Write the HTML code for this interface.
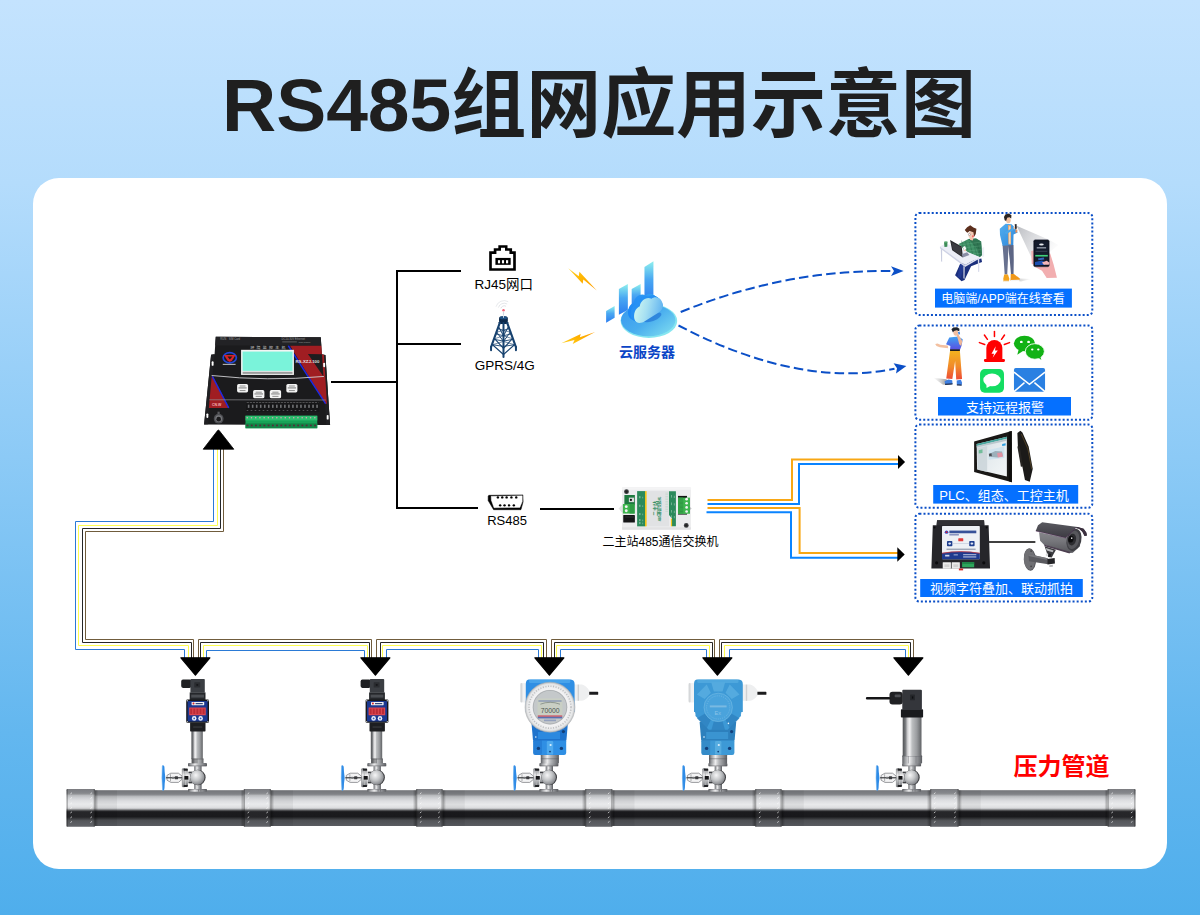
<!DOCTYPE html>
<html><head><meta charset="utf-8"><title>RS485</title>
<style>
html,body{margin:0;padding:0;background:#c4e3fe;font-family:"Liberation Sans",sans-serif;}
svg{display:block;}
</style></head><body>
<svg width="1200" height="915" viewBox="0 0 1200 915">
<defs>
<linearGradient id="bg" x1="0" y1="0" x2="0" y2="1">
<stop offset="0" stop-color="#c4e3fe"/><stop offset="0.2" stop-color="#b4dcfc"/><stop offset="0.5" stop-color="#8ccaf6"/><stop offset="0.8" stop-color="#63b7ef"/><stop offset="1" stop-color="#4faeec"/>
</linearGradient>
<linearGradient id="pipe" x1="0" y1="0" x2="0" y2="1">
<stop offset="0" stop-color="#74767a"/><stop offset="0.11" stop-color="#808286"/><stop offset="0.135" stop-color="#8f9195"/><stop offset="0.17" stop-color="#b5b7ba"/><stop offset="0.22" stop-color="#c8cacd"/><stop offset="0.30" stop-color="#dcdde0"/><stop offset="0.40" stop-color="#e8e9eb"/><stop offset="0.48" stop-color="#dfe0e2"/><stop offset="0.52" stop-color="#c0c1c4"/><stop offset="0.56" stop-color="#5a5b5e"/><stop offset="0.60" stop-color="#1c1c1f"/><stop offset="0.74" stop-color="#1a1a1d"/><stop offset="0.78" stop-color="#2e2f32"/><stop offset="0.84" stop-color="#4d4f53"/><stop offset="1" stop-color="#5a5c61"/>
</linearGradient>
<linearGradient id="steelD" x1="0" y1="0" x2="1" y2="0">
<stop offset="0" stop-color="#4f5154"/><stop offset="0.14" stop-color="#77797c"/><stop offset="0.27" stop-color="#d6d6d8"/><stop offset="0.38" stop-color="#f0f0f1"/><stop offset="0.5" stop-color="#bdbfc1"/><stop offset="0.75" stop-color="#9a9c9f"/><stop offset="1" stop-color="#606265"/>
</linearGradient>
<linearGradient id="steelH" x1="0" y1="0" x2="1" y2="0">
<stop offset="0" stop-color="#595b5f"/><stop offset="0.14" stop-color="#9d9fa2"/><stop offset="0.36" stop-color="#ededee"/><stop offset="0.55" stop-color="#b4b6b9"/><stop offset="0.8" stop-color="#86888c"/><stop offset="1" stop-color="#5b5d61"/>
</linearGradient>
</defs>
<rect x="0" y="0" width="1200" height="915" fill="url(#bg)"/>
<rect x="33" y="178" width="1134" height="691" rx="26" ry="26" fill="#fff"/>
<text x="222" y="131" font-family="'Liberation Sans','Noto Sans CJK SC',sans-serif" font-size="75" font-weight="bold" fill="#1f1f1f" textLength="754" lengthAdjust="spacingAndGlyphs">RS485组网应用示意图</text>
<path d="M331 382 L397 382" fill="none" stroke="#000" stroke-width="2" />
<path d="M461 271 L397 271 L397 508 L478 508" fill="none" stroke="#000" stroke-width="2" />
<path d="M397 344 L461 344" fill="none" stroke="#000" stroke-width="2" />
<path d="M540 509 L614 509" fill="none" stroke="#000" stroke-width="2" />
<text x="503.7" y="288.6" font-family="'Liberation Sans','Noto Sans CJK SC',sans-serif" font-size="13.5" fill="#000" text-anchor="middle">RJ45网口</text>
<text x="504.7" y="370.4" font-family="'Liberation Sans','Noto Sans CJK SC',sans-serif" font-size="13.5" fill="#000" text-anchor="middle">GPRS/4G</text>
<text x="507" y="524.8" font-family="'Liberation Sans','Noto Sans CJK SC',sans-serif" font-size="13" fill="#000" text-anchor="middle">RS485</text>
<text x="660.5" y="546" font-family="'Liberation Sans','Noto Sans CJK SC',sans-serif" font-size="12" fill="#000" text-anchor="middle">二主站485通信交换机</text>
<text x="647" y="357" font-family="'Liberation Sans','Noto Sans CJK SC',sans-serif" font-size="14" font-weight="bold" fill="#0b45c6" text-anchor="middle">云服务器</text>
<text x="1061.5" y="774.5" font-family="'Liberation Sans','Noto Sans CJK SC',sans-serif" font-size="24" font-weight="bold" fill="#ff0000" text-anchor="middle">压力管道</text>
<rect x="915.4" y="213" width="176.9" height="102.0" rx="4" ry="4" fill="none" stroke="#0b4fc7" stroke-width="2" stroke-dasharray="2 2.1"/>
<rect x="915.4" y="325.5" width="176.9" height="94.3" rx="4" ry="4" fill="none" stroke="#0b4fc7" stroke-width="2" stroke-dasharray="2 2.1"/>
<rect x="915.4" y="424.5" width="176.9" height="83.3" rx="4" ry="4" fill="none" stroke="#0b4fc7" stroke-width="2" stroke-dasharray="2 2.1"/>
<rect x="915.4" y="513.7" width="176.9" height="87.8" rx="4" ry="4" fill="none" stroke="#0b4fc7" stroke-width="2" stroke-dasharray="2 2.1"/>
<rect x="935" y="288.6" width="136.9" height="19.0" fill="#0570ff"/>
<rect x="938" y="397" width="133.0" height="18.5" fill="#0570ff"/>
<rect x="933.2" y="485" width="145.0" height="18.6" fill="#0570ff"/>
<rect x="920.2" y="579" width="162.6" height="18.0" fill="#0570ff"/>
<text x="1003" y="303.4" font-family="'Liberation Sans','Noto Sans CJK SC',sans-serif" font-size="12" fill="#fff" text-anchor="middle">电脑端/APP端在线查看</text>
<text x="1005" y="411.7" font-family="'Liberation Sans','Noto Sans CJK SC',sans-serif" font-size="13" fill="#fff" text-anchor="middle">支持远程报警</text>
<text x="1004" y="499.9" font-family="'Liberation Sans','Noto Sans CJK SC',sans-serif" font-size="13" fill="#fff" text-anchor="middle">PLC、组态、工控主机</text>
<text x="1001.5" y="592.5" font-family="'Liberation Sans','Noto Sans CJK SC',sans-serif" font-size="13" fill="#fff" text-anchor="middle">视频字符叠加、联动抓拍</text>
<path d="M707.5 500 L792 500 L792 459.5 L899 459.5" fill="none" stroke="#f8a714" stroke-width="2" />
<path d="M707.5 504 L799 504 L799 464 L899 464" fill="none" stroke="#0a84ff" stroke-width="2" />
<path d="M707.5 508 L799.6 508 L799.6 553 L899 553" fill="none" stroke="#f8a714" stroke-width="2" />
<path d="M706.5 512.2 L791 512.2 L791 557.7 L899 557.7" fill="none" stroke="#0a84ff" stroke-width="2" />
<path d="M898 454.9 L905.1 462.1 L898 469.1 Z" fill="#000"/>
<path d="M897.3 547.2 L904.7 554.4 L897.3 561.7 Z" fill="#000"/>
<path d="M213.5 449 L213.5 521.5 L75.5 521.5 L75.5 649.5 L184.5 649.5 L184.5 658" fill="none" stroke="#2a7ad6" stroke-width="1" />
<path d="M217.5 449 L217.5 525.5 L78.5 525.5 L78.5 645.5 L188.5 645.5 L188.5 658" fill="none" stroke="#fdfd50" stroke-width="1" />
<path d="M220.5 449 L220.5 528.5 L82.5 528.5 L82.5 642.5 L191.5 642.5 L191.5 658" fill="none" stroke="#262626" stroke-width="1" />
<path d="M223.5 449 L223.5 531.5 L85.5 531.5 L85.5 639.5 L193.5 639.5 L193.5 658" fill="none" stroke="#705c3c" stroke-width="1" />
<path d="M206.5 658 L206.5 650.5 L364.5 650.5 L364.5 658" fill="none" stroke="#2a7ad6" stroke-width="1" />
<path d="M203.5 658 L203.5 645.5 L367.5 645.5 L367.5 658" fill="none" stroke="#fdfd50" stroke-width="1" />
<path d="M200.5 658 L200.5 642.5 L369.5 642.5 L369.5 658" fill="none" stroke="#262626" stroke-width="1" />
<path d="M198.5 658 L198.5 639.5 L371.5 639.5 L371.5 658" fill="none" stroke="#705c3c" stroke-width="1" />
<path d="M386.5 658 L386.5 649.5 L538.5 649.5 L538.5 658" fill="none" stroke="#2a7ad6" stroke-width="1" />
<path d="M382.5 658 L382.5 645.5 L541.5 645.5 L541.5 658" fill="none" stroke="#fdfd50" stroke-width="1" />
<path d="M380.5 658 L380.5 642.5 L543.5 642.5 L543.5 658" fill="none" stroke="#262626" stroke-width="1" />
<path d="M376.5 658 L376.5 639.5 L546.5 639.5 L546.5 658" fill="none" stroke="#705c3c" stroke-width="1" />
<path d="M560.5 658 L560.5 649.5 L706.5 649.5 L706.5 658" fill="none" stroke="#2a7ad6" stroke-width="1" />
<path d="M556.5 658 L556.5 645.5 L709.5 645.5 L709.5 658" fill="none" stroke="#fdfd50" stroke-width="1" />
<path d="M554.5 658 L554.5 642.5 L712.5 642.5 L712.5 658" fill="none" stroke="#262626" stroke-width="1" />
<path d="M551.5 658 L551.5 639.5 L714.5 639.5 L714.5 658" fill="none" stroke="#705c3c" stroke-width="1" />
<path d="M729.5 658 L729.5 649.5 L905.5 649.5 L905.5 658" fill="none" stroke="#2a7ad6" stroke-width="1" />
<path d="M724.5 658 L724.5 645.5 L908.5 645.5 L908.5 658" fill="none" stroke="#fdfd50" stroke-width="1" />
<path d="M721.5 658 L721.5 642.5 L910.5 642.5 L910.5 658" fill="none" stroke="#262626" stroke-width="1" />
<path d="M719.5 658 L719.5 639.5 L913.5 639.5 L913.5 658" fill="none" stroke="#705c3c" stroke-width="1" />
<path d="M180.90 657.8 L209.90 657.8 L195.40 675.2 Z" fill="#000" stroke="#000" stroke-width="1.2" stroke-linejoin="round"/>
<path d="M360.90 657.8 L389.90 657.8 L375.40 675.2 Z" fill="#000" stroke="#000" stroke-width="1.2" stroke-linejoin="round"/>
<path d="M534.90 657.8 L563.90 657.8 L549.40 675.2 Z" fill="#000" stroke="#000" stroke-width="1.2" stroke-linejoin="round"/>
<path d="M702.90 657.8 L731.90 657.8 L717.40 675.2 Z" fill="#000" stroke="#000" stroke-width="1.2" stroke-linejoin="round"/>
<path d="M893.90 657.8 L922.90 657.8 L908.40 675.2 Z" fill="#000" stroke="#000" stroke-width="1.2" stroke-linejoin="round"/>
<path d="M203.2 449.2 L233.8 449.2 L219.2 430.6 Q218.4 429.6 217.6 430.6 Z" fill="#000" stroke="#000" stroke-width="0.8" stroke-linejoin="round"/>
<rect x="67" y="790.2" width="1068" height="35.8" fill="url(#pipe)"/>
<defs><linearGradient id="edgeL" x1="0" y1="0" x2="1" y2="0"><stop offset="0" stop-color="#000" stop-opacity="0.32"/><stop offset="1" stop-color="#000" stop-opacity="0"/></linearGradient>
<linearGradient id="edgeR" x1="1" y1="0" x2="0" y2="0"><stop offset="0" stop-color="#000" stop-opacity="0.32"/><stop offset="1" stop-color="#000" stop-opacity="0"/></linearGradient></defs>
<rect x="95" y="790.2" width="22" height="35.8" fill="#000" opacity="0.05"/>
<rect x="95" y="790.2" width="3.2" height="35.8" fill="url(#edgeL)"/>
<rect x="66.5" y="789" width="28.5" height="37.8" rx="1.2" fill="url(#pipe)"/>
<rect x="66.5" y="789" width="28.5" height="37.8" rx="1.2" fill="#fff" opacity="0.05"/>
<rect x="66.5" y="789" width="1.3" height="37.8" fill="#000" opacity="0.3"/>
<rect x="93.7" y="789" width="1.3" height="37.8" fill="#000" opacity="0.3"/>
<path d="M70.40 793.9 L72.00 792.6999999999999" stroke="#fff" stroke-width="0.9" opacity="0.72"/>
<path d="M70.40 798.6 L72.00 797.4" stroke="#fff" stroke-width="0.9" opacity="0.72"/>
<path d="M70.40 803.9 L72.00 802.6999999999999" stroke="#fff" stroke-width="0.9" opacity="0.72"/>
<path d="M70.40 808.6 L72.00 807.4" stroke="#fff" stroke-width="0.9" opacity="0.72"/>
<path d="M70.40 813.0 L72.00 811.8" stroke="#fff" stroke-width="0.9" opacity="0.72"/>
<path d="M70.40 817.9 L72.00 816.6999999999999" stroke="#fff" stroke-width="0.9" opacity="0.72"/>
<path d="M70.40 822.6 L72.00 821.4" stroke="#fff" stroke-width="0.9" opacity="0.72"/>
<path d="M90.40 793.9 L92.00 792.6999999999999" stroke="#fff" stroke-width="0.9" opacity="0.72"/>
<path d="M90.40 798.6 L92.00 797.4" stroke="#fff" stroke-width="0.9" opacity="0.72"/>
<path d="M90.40 803.9 L92.00 802.6999999999999" stroke="#fff" stroke-width="0.9" opacity="0.72"/>
<path d="M90.40 808.6 L92.00 807.4" stroke="#fff" stroke-width="0.9" opacity="0.72"/>
<path d="M90.40 813.0 L92.00 811.8" stroke="#fff" stroke-width="0.9" opacity="0.72"/>
<path d="M90.40 817.9 L92.00 816.6999999999999" stroke="#fff" stroke-width="0.9" opacity="0.72"/>
<path d="M90.40 822.6 L92.00 821.4" stroke="#fff" stroke-width="0.9" opacity="0.72"/>
<rect x="271" y="790.2" width="22" height="35.8" fill="#000" opacity="0.05"/>
<rect x="271" y="790.2" width="3.2" height="35.8" fill="url(#edgeL)"/>
<rect x="240.5" y="790.2" width="3.2" height="35.8" fill="url(#edgeR)"/>
<rect x="243.7" y="789" width="27.3" height="37.8" rx="1.2" fill="url(#pipe)"/>
<rect x="243.7" y="789" width="27.3" height="37.8" rx="1.2" fill="#fff" opacity="0.05"/>
<rect x="243.7" y="789" width="1.3" height="37.8" fill="#000" opacity="0.3"/>
<rect x="269.7" y="789" width="1.3" height="37.8" fill="#000" opacity="0.3"/>
<path d="M247.60 793.9 L249.20 792.6999999999999" stroke="#fff" stroke-width="0.9" opacity="0.72"/>
<path d="M247.60 798.6 L249.20 797.4" stroke="#fff" stroke-width="0.9" opacity="0.72"/>
<path d="M247.60 803.9 L249.20 802.6999999999999" stroke="#fff" stroke-width="0.9" opacity="0.72"/>
<path d="M247.60 808.6 L249.20 807.4" stroke="#fff" stroke-width="0.9" opacity="0.72"/>
<path d="M247.60 813.0 L249.20 811.8" stroke="#fff" stroke-width="0.9" opacity="0.72"/>
<path d="M247.60 817.9 L249.20 816.6999999999999" stroke="#fff" stroke-width="0.9" opacity="0.72"/>
<path d="M247.60 822.6 L249.20 821.4" stroke="#fff" stroke-width="0.9" opacity="0.72"/>
<path d="M266.40 793.9 L268.00 792.6999999999999" stroke="#fff" stroke-width="0.9" opacity="0.72"/>
<path d="M266.40 798.6 L268.00 797.4" stroke="#fff" stroke-width="0.9" opacity="0.72"/>
<path d="M266.40 803.9 L268.00 802.6999999999999" stroke="#fff" stroke-width="0.9" opacity="0.72"/>
<path d="M266.40 808.6 L268.00 807.4" stroke="#fff" stroke-width="0.9" opacity="0.72"/>
<path d="M266.40 813.0 L268.00 811.8" stroke="#fff" stroke-width="0.9" opacity="0.72"/>
<path d="M266.40 817.9 L268.00 816.6999999999999" stroke="#fff" stroke-width="0.9" opacity="0.72"/>
<path d="M266.40 822.6 L268.00 821.4" stroke="#fff" stroke-width="0.9" opacity="0.72"/>
<rect x="442.8" y="790.2" width="22" height="35.8" fill="#000" opacity="0.05"/>
<rect x="442.8" y="790.2" width="3.2" height="35.8" fill="url(#edgeL)"/>
<rect x="412.8" y="790.2" width="3.2" height="35.8" fill="url(#edgeR)"/>
<rect x="416" y="789" width="26.8" height="37.8" rx="1.2" fill="url(#pipe)"/>
<rect x="416" y="789" width="26.8" height="37.8" rx="1.2" fill="#fff" opacity="0.05"/>
<rect x="416" y="789" width="1.3" height="37.8" fill="#000" opacity="0.3"/>
<rect x="441.5" y="789" width="1.3" height="37.8" fill="#000" opacity="0.3"/>
<path d="M419.90 793.9 L421.50 792.6999999999999" stroke="#fff" stroke-width="0.9" opacity="0.72"/>
<path d="M419.90 798.6 L421.50 797.4" stroke="#fff" stroke-width="0.9" opacity="0.72"/>
<path d="M419.90 803.9 L421.50 802.6999999999999" stroke="#fff" stroke-width="0.9" opacity="0.72"/>
<path d="M419.90 808.6 L421.50 807.4" stroke="#fff" stroke-width="0.9" opacity="0.72"/>
<path d="M419.90 813.0 L421.50 811.8" stroke="#fff" stroke-width="0.9" opacity="0.72"/>
<path d="M419.90 817.9 L421.50 816.6999999999999" stroke="#fff" stroke-width="0.9" opacity="0.72"/>
<path d="M419.90 822.6 L421.50 821.4" stroke="#fff" stroke-width="0.9" opacity="0.72"/>
<path d="M438.20 793.9 L439.80 792.6999999999999" stroke="#fff" stroke-width="0.9" opacity="0.72"/>
<path d="M438.20 798.6 L439.80 797.4" stroke="#fff" stroke-width="0.9" opacity="0.72"/>
<path d="M438.20 803.9 L439.80 802.6999999999999" stroke="#fff" stroke-width="0.9" opacity="0.72"/>
<path d="M438.20 808.6 L439.80 807.4" stroke="#fff" stroke-width="0.9" opacity="0.72"/>
<path d="M438.20 813.0 L439.80 811.8" stroke="#fff" stroke-width="0.9" opacity="0.72"/>
<path d="M438.20 817.9 L439.80 816.6999999999999" stroke="#fff" stroke-width="0.9" opacity="0.72"/>
<path d="M438.20 822.6 L439.80 821.4" stroke="#fff" stroke-width="0.9" opacity="0.72"/>
<rect x="612.5" y="790.2" width="22" height="35.8" fill="#000" opacity="0.05"/>
<rect x="612.5" y="790.2" width="3.2" height="35.8" fill="url(#edgeL)"/>
<rect x="581.8" y="790.2" width="3.2" height="35.8" fill="url(#edgeR)"/>
<rect x="585" y="789" width="27.5" height="37.8" rx="1.2" fill="url(#pipe)"/>
<rect x="585" y="789" width="27.5" height="37.8" rx="1.2" fill="#fff" opacity="0.05"/>
<rect x="585" y="789" width="1.3" height="37.8" fill="#000" opacity="0.3"/>
<rect x="611.2" y="789" width="1.3" height="37.8" fill="#000" opacity="0.3"/>
<path d="M588.90 793.9 L590.50 792.6999999999999" stroke="#fff" stroke-width="0.9" opacity="0.72"/>
<path d="M588.90 798.6 L590.50 797.4" stroke="#fff" stroke-width="0.9" opacity="0.72"/>
<path d="M588.90 803.9 L590.50 802.6999999999999" stroke="#fff" stroke-width="0.9" opacity="0.72"/>
<path d="M588.90 808.6 L590.50 807.4" stroke="#fff" stroke-width="0.9" opacity="0.72"/>
<path d="M588.90 813.0 L590.50 811.8" stroke="#fff" stroke-width="0.9" opacity="0.72"/>
<path d="M588.90 817.9 L590.50 816.6999999999999" stroke="#fff" stroke-width="0.9" opacity="0.72"/>
<path d="M588.90 822.6 L590.50 821.4" stroke="#fff" stroke-width="0.9" opacity="0.72"/>
<path d="M607.90 793.9 L609.50 792.6999999999999" stroke="#fff" stroke-width="0.9" opacity="0.72"/>
<path d="M607.90 798.6 L609.50 797.4" stroke="#fff" stroke-width="0.9" opacity="0.72"/>
<path d="M607.90 803.9 L609.50 802.6999999999999" stroke="#fff" stroke-width="0.9" opacity="0.72"/>
<path d="M607.90 808.6 L609.50 807.4" stroke="#fff" stroke-width="0.9" opacity="0.72"/>
<path d="M607.90 813.0 L609.50 811.8" stroke="#fff" stroke-width="0.9" opacity="0.72"/>
<path d="M607.90 817.9 L609.50 816.6999999999999" stroke="#fff" stroke-width="0.9" opacity="0.72"/>
<path d="M607.90 822.6 L609.50 821.4" stroke="#fff" stroke-width="0.9" opacity="0.72"/>
<rect x="781.8" y="790.2" width="22" height="35.8" fill="#000" opacity="0.05"/>
<rect x="781.8" y="790.2" width="3.2" height="35.8" fill="url(#edgeL)"/>
<rect x="751.8" y="790.2" width="3.2" height="35.8" fill="url(#edgeR)"/>
<rect x="755" y="789" width="26.8" height="37.8" rx="1.2" fill="url(#pipe)"/>
<rect x="755" y="789" width="26.8" height="37.8" rx="1.2" fill="#fff" opacity="0.05"/>
<rect x="755" y="789" width="1.3" height="37.8" fill="#000" opacity="0.3"/>
<rect x="780.5" y="789" width="1.3" height="37.8" fill="#000" opacity="0.3"/>
<path d="M758.90 793.9 L760.50 792.6999999999999" stroke="#fff" stroke-width="0.9" opacity="0.72"/>
<path d="M758.90 798.6 L760.50 797.4" stroke="#fff" stroke-width="0.9" opacity="0.72"/>
<path d="M758.90 803.9 L760.50 802.6999999999999" stroke="#fff" stroke-width="0.9" opacity="0.72"/>
<path d="M758.90 808.6 L760.50 807.4" stroke="#fff" stroke-width="0.9" opacity="0.72"/>
<path d="M758.90 813.0 L760.50 811.8" stroke="#fff" stroke-width="0.9" opacity="0.72"/>
<path d="M758.90 817.9 L760.50 816.6999999999999" stroke="#fff" stroke-width="0.9" opacity="0.72"/>
<path d="M758.90 822.6 L760.50 821.4" stroke="#fff" stroke-width="0.9" opacity="0.72"/>
<path d="M777.20 793.9 L778.80 792.6999999999999" stroke="#fff" stroke-width="0.9" opacity="0.72"/>
<path d="M777.20 798.6 L778.80 797.4" stroke="#fff" stroke-width="0.9" opacity="0.72"/>
<path d="M777.20 803.9 L778.80 802.6999999999999" stroke="#fff" stroke-width="0.9" opacity="0.72"/>
<path d="M777.20 808.6 L778.80 807.4" stroke="#fff" stroke-width="0.9" opacity="0.72"/>
<path d="M777.20 813.0 L778.80 811.8" stroke="#fff" stroke-width="0.9" opacity="0.72"/>
<path d="M777.20 817.9 L778.80 816.6999999999999" stroke="#fff" stroke-width="0.9" opacity="0.72"/>
<path d="M777.20 822.6 L778.80 821.4" stroke="#fff" stroke-width="0.9" opacity="0.72"/>
<rect x="958.8" y="790.2" width="22" height="35.8" fill="#000" opacity="0.05"/>
<rect x="958.8" y="790.2" width="3.2" height="35.8" fill="url(#edgeL)"/>
<rect x="926.8" y="790.2" width="3.2" height="35.8" fill="url(#edgeR)"/>
<rect x="930" y="789" width="28.8" height="37.8" rx="1.2" fill="url(#pipe)"/>
<rect x="930" y="789" width="28.8" height="37.8" rx="1.2" fill="#fff" opacity="0.05"/>
<rect x="930" y="789" width="1.3" height="37.8" fill="#000" opacity="0.3"/>
<rect x="957.5" y="789" width="1.3" height="37.8" fill="#000" opacity="0.3"/>
<path d="M933.90 793.9 L935.50 792.6999999999999" stroke="#fff" stroke-width="0.9" opacity="0.72"/>
<path d="M933.90 798.6 L935.50 797.4" stroke="#fff" stroke-width="0.9" opacity="0.72"/>
<path d="M933.90 803.9 L935.50 802.6999999999999" stroke="#fff" stroke-width="0.9" opacity="0.72"/>
<path d="M933.90 808.6 L935.50 807.4" stroke="#fff" stroke-width="0.9" opacity="0.72"/>
<path d="M933.90 813.0 L935.50 811.8" stroke="#fff" stroke-width="0.9" opacity="0.72"/>
<path d="M933.90 817.9 L935.50 816.6999999999999" stroke="#fff" stroke-width="0.9" opacity="0.72"/>
<path d="M933.90 822.6 L935.50 821.4" stroke="#fff" stroke-width="0.9" opacity="0.72"/>
<path d="M954.20 793.9 L955.80 792.6999999999999" stroke="#fff" stroke-width="0.9" opacity="0.72"/>
<path d="M954.20 798.6 L955.80 797.4" stroke="#fff" stroke-width="0.9" opacity="0.72"/>
<path d="M954.20 803.9 L955.80 802.6999999999999" stroke="#fff" stroke-width="0.9" opacity="0.72"/>
<path d="M954.20 808.6 L955.80 807.4" stroke="#fff" stroke-width="0.9" opacity="0.72"/>
<path d="M954.20 813.0 L955.80 811.8" stroke="#fff" stroke-width="0.9" opacity="0.72"/>
<path d="M954.20 817.9 L955.80 816.6999999999999" stroke="#fff" stroke-width="0.9" opacity="0.72"/>
<path d="M954.20 822.6 L955.80 821.4" stroke="#fff" stroke-width="0.9" opacity="0.72"/>
<rect x="1104.3" y="790.2" width="3.2" height="35.8" fill="url(#edgeR)"/>
<rect x="1107.5" y="789" width="28.0" height="37.8" rx="1.2" fill="url(#pipe)"/>
<rect x="1107.5" y="789" width="28.0" height="37.8" rx="1.2" fill="#fff" opacity="0.05"/>
<rect x="1107.5" y="789" width="1.3" height="37.8" fill="#000" opacity="0.3"/>
<rect x="1134.2" y="789" width="1.3" height="37.8" fill="#000" opacity="0.3"/>
<path d="M1111.40 793.9 L1113.00 792.6999999999999" stroke="#fff" stroke-width="0.9" opacity="0.72"/>
<path d="M1111.40 798.6 L1113.00 797.4" stroke="#fff" stroke-width="0.9" opacity="0.72"/>
<path d="M1111.40 803.9 L1113.00 802.6999999999999" stroke="#fff" stroke-width="0.9" opacity="0.72"/>
<path d="M1111.40 808.6 L1113.00 807.4" stroke="#fff" stroke-width="0.9" opacity="0.72"/>
<path d="M1111.40 813.0 L1113.00 811.8" stroke="#fff" stroke-width="0.9" opacity="0.72"/>
<path d="M1111.40 817.9 L1113.00 816.6999999999999" stroke="#fff" stroke-width="0.9" opacity="0.72"/>
<path d="M1111.40 822.6 L1113.00 821.4" stroke="#fff" stroke-width="0.9" opacity="0.72"/>
<path d="M1130.90 793.9 L1132.50 792.6999999999999" stroke="#fff" stroke-width="0.9" opacity="0.72"/>
<path d="M1130.90 798.6 L1132.50 797.4" stroke="#fff" stroke-width="0.9" opacity="0.72"/>
<path d="M1130.90 803.9 L1132.50 802.6999999999999" stroke="#fff" stroke-width="0.9" opacity="0.72"/>
<path d="M1130.90 808.6 L1132.50 807.4" stroke="#fff" stroke-width="0.9" opacity="0.72"/>
<path d="M1130.90 813.0 L1132.50 811.8" stroke="#fff" stroke-width="0.9" opacity="0.72"/>
<path d="M1130.90 817.9 L1132.50 816.6999999999999" stroke="#fff" stroke-width="0.9" opacity="0.72"/>
<path d="M1130.90 822.6 L1132.50 821.4" stroke="#fff" stroke-width="0.9" opacity="0.72"/>
<g><polygon points="215.75,336.77 320.76,337.23 321.92,354.50 325.42,355.08 330.09,425.09 204.08,424.50 211.08,354.73 214.58,354.27" fill="#1b1b1d"/><polygon points="215.75,336.77 320.76,337.23 321.34,345.75 215.17,345.40" fill="#222225"/><polygon points="211.08,354.73 214.58,354.27 208.17,424.27 204.08,424.50" fill="#202023"/><polygon points="321.92,354.50 325.42,355.08 330.09,425.09 326.24,425.09" fill="#202023"/><polygon points="290.07,345.75 321.34,345.75 321.92,354.50 323.91,354.85 326.94,403.74 325.54,403.74" fill="#a01d22"/><polygon points="307.92,353.92 322.04,354.27 323.44,376.44" fill="#1d1d1f"/><line x1="288.32" y1="345.75" x2="325.54" y2="403.74" stroke="#1b2be6" stroke-width="1.4"/><polygon points="211.67,376.44 213.07,376.44 229.17,407.94 208.87,407.94" fill="#a01d22"/><line x1="212.37" y1="376.44" x2="228.7" y2="407.94" stroke="#1b2be6" stroke-width="1.4"/><path d="M211.67 375.5 Q267.67 381.57 323.91 376.44" fill="none" stroke="#cfcfd2" stroke-width="0.9"/><path d="M209.33 399.77 L325.77 400.0" fill="none" stroke="#8d8d90" stroke-width="0.7"/><rect x="241.07" y="349.83" width="52.85" height="25.09" fill="#f2f4f3"/><rect x="242.59" y="351.58" width="49.93" height="19.26" fill="#7af3da"/><rect x="242.59" y="371.77" width="49.93" height="2.10" fill="#555" opacity="0.55"/><rect x="237.1" y="383.9" width="10.97" height="8.52" rx="1.6" fill="#f4f4f4"/><line x1="238.5" y1="387.93" x2="246.67" y2="387.93" stroke="#444" stroke-width="0.7"/><line x1="239.67" y1="386.0" x2="245.5" y2="386.0" stroke="#777" stroke-width="0.8"/><line x1="239.67" y1="390.55" x2="245.5" y2="390.55" stroke="#777" stroke-width="0.8"/><rect x="253.09" y="390.09" width="11.31" height="8.16" rx="1.6" fill="#f4f4f4"/><line x1="254.49" y1="393.94" x2="263.0" y2="393.94" stroke="#444" stroke-width="0.7"/><line x1="255.65" y1="392.19" x2="261.84" y2="392.19" stroke="#777" stroke-width="0.8"/><line x1="255.65" y1="396.39" x2="261.84" y2="396.39" stroke="#777" stroke-width="0.8"/><rect x="269.77" y="390.09" width="11.32" height="8.16" rx="1.6" fill="#f4f4f4"/><line x1="271.17" y1="393.94" x2="279.69" y2="393.94" stroke="#444" stroke-width="0.7"/><line x1="272.34" y1="392.19" x2="278.52" y2="392.19" stroke="#777" stroke-width="0.8"/><line x1="272.34" y1="396.39" x2="278.52" y2="396.39" stroke="#777" stroke-width="0.8"/><rect x="286.34" y="383.9" width="11.08" height="8.52" rx="1.6" fill="#f4f4f4"/><line x1="287.74" y1="387.93" x2="296.02" y2="387.93" stroke="#444" stroke-width="0.7"/><line x1="288.9" y1="386.0" x2="294.85" y2="386.0" stroke="#777" stroke-width="0.8"/><line x1="288.9" y1="390.55" x2="294.85" y2="390.55" stroke="#777" stroke-width="0.8"/><ellipse cx="229.75" cy="357.77" rx="6.6" ry="5.2" fill="none" stroke="#2246d8" stroke-width="1.7"/><polygon points="223.92,355.08 235.59,355.08 232.08,360.57 229.75,362.08 227.42,360.57" fill="#d8232a"/><polygon points="227.42,356.60 232.43,356.60 229.87,359.40" fill="#1b1b1d"/><rect x="222.75" y="363.84" width="12.84" height="1.16" fill="#ddd" opacity="0.75"/><text x="250.4" y="349" font-family="'Liberation Sans','Noto Sans CJK SC',sans-serif" font-size="3.9" fill="#e8e8e8" opacity="0.85" textLength="35" lengthAdjust="spacing">环境监控主机</text><text x="295.5" y="363.13" font-family="'Liberation Sans',sans-serif" font-size="4.3" font-weight="bold" fill="#f0f0f0" opacity="0.9">RS-XZJ-100</text><text x="220.3" y="340.03" font-family="'Liberation Sans',sans-serif" font-size="2.7" fill="#bbb" opacity="0.8">RUN</text><text x="228.7" y="340.03" font-family="'Liberation Sans',sans-serif" font-size="2.7" fill="#bbb" opacity="0.8">SIM Card</text><text x="281.5" y="340.03" font-family="'Liberation Sans',sans-serif" font-size="2.7" fill="#bbb" opacity="0.8">DC10-30V Ethernet</text><text x="298.5" y="342.83" font-family="'Liberation Sans',sans-serif" font-size="2.5" fill="#bbb" opacity="0.8">10M,100M</text><line x1="282.25" y1="341.9" x2="296.84" y2="341.9" stroke="#bbb" stroke-width="0.5" opacity="0.8"/><text x="212.1" y="406.07" font-family="'Liberation Sans',sans-serif" font-size="3.5" font-weight="bold" fill="#f3b5b5">CN.W</text><rect x="246.09" y="401.4" width="73.15" height="10.27" fill="#161618"/><rect x="247.84" y="404.67" width="1.6" height="3.2" fill="#8f9093" opacity="0.75"/><rect x="251.86" y="404.67" width="1.6" height="3.2" fill="#8f9093" opacity="0.75"/><rect x="255.89" y="404.67" width="1.6" height="3.2" fill="#8f9093" opacity="0.75"/><rect x="259.91" y="404.67" width="1.6" height="3.2" fill="#8f9093" opacity="0.75"/><rect x="263.94" y="404.67" width="1.6" height="3.2" fill="#8f9093" opacity="0.75"/><rect x="267.96" y="404.67" width="1.6" height="3.2" fill="#8f9093" opacity="0.75"/><rect x="271.99" y="404.67" width="1.6" height="3.2" fill="#8f9093" opacity="0.75"/><rect x="276.01" y="404.67" width="1.6" height="3.2" fill="#8f9093" opacity="0.75"/><rect x="280.04" y="404.67" width="1.6" height="3.2" fill="#8f9093" opacity="0.75"/><rect x="284.06" y="404.67" width="1.6" height="3.2" fill="#8f9093" opacity="0.75"/><rect x="288.09" y="404.67" width="1.6" height="3.2" fill="#8f9093" opacity="0.75"/><rect x="292.11" y="404.67" width="1.6" height="3.2" fill="#8f9093" opacity="0.75"/><rect x="296.14" y="404.67" width="1.6" height="3.2" fill="#8f9093" opacity="0.75"/><rect x="300.16" y="404.67" width="1.6" height="3.2" fill="#8f9093" opacity="0.75"/><rect x="304.19" y="404.67" width="1.6" height="3.2" fill="#8f9093" opacity="0.75"/><rect x="308.21" y="404.67" width="1.6" height="3.2" fill="#8f9093" opacity="0.75"/><rect x="312.24" y="404.67" width="1.6" height="3.2" fill="#8f9093" opacity="0.75"/><rect x="316.26" y="404.67" width="1.6" height="3.2" fill="#8f9093" opacity="0.75"/><line x1="246.67" y1="402.57" x2="318.42" y2="402.57" stroke="#aaa" stroke-width="0.6" stroke-dasharray="2.2 0.9" opacity="0.7"/><line x1="246.67" y1="410.5" x2="318.42" y2="410.5" stroke="#6a6a6d" stroke-width="0.8" stroke-dasharray="1.6 2.4" opacity="0.9"/><rect x="245.5" y="415.75" width="71.76" height="12.49" fill="#18a357"/><rect x="245.5" y="415.75" width="71.76" height="4.67" fill="#2bbd6d"/><rect x="245.5" y="423.34" width="71.76" height="4.90" fill="#128546"/><circle cx="247.25" cy="417.74" r="0.8" fill="#d9a6b6"/><rect x="246.59" y="424.64" width="1.8" height="1.6" fill="#5a2a3a"/><circle cx="251.48" cy="417.74" r="0.8" fill="#d9a6b6"/><rect x="250.81" y="424.64" width="1.8" height="1.6" fill="#5a2a3a"/><circle cx="255.7" cy="417.74" r="0.8" fill="#d9a6b6"/><rect x="255.03" y="424.64" width="1.8" height="1.6" fill="#5a2a3a"/><circle cx="259.92" cy="417.74" r="0.8" fill="#d9a6b6"/><rect x="259.26000000000005" y="424.64" width="1.8" height="1.6" fill="#5a2a3a"/><circle cx="264.15" cy="417.74" r="0.8" fill="#d9a6b6"/><rect x="263.48" y="424.64" width="1.8" height="1.6" fill="#5a2a3a"/><circle cx="268.37" cy="417.74" r="0.8" fill="#d9a6b6"/><rect x="267.70000000000005" y="424.64" width="1.8" height="1.6" fill="#5a2a3a"/><circle cx="272.59" cy="417.74" r="0.8" fill="#d9a6b6"/><rect x="271.93" y="424.64" width="1.8" height="1.6" fill="#5a2a3a"/><circle cx="276.82" cy="417.74" r="0.8" fill="#d9a6b6"/><rect x="276.15000000000003" y="424.64" width="1.8" height="1.6" fill="#5a2a3a"/><circle cx="281.04" cy="417.74" r="0.8" fill="#d9a6b6"/><rect x="280.37" y="424.64" width="1.8" height="1.6" fill="#5a2a3a"/><circle cx="285.26" cy="417.74" r="0.8" fill="#d9a6b6"/><rect x="284.6" y="424.64" width="1.8" height="1.6" fill="#5a2a3a"/><circle cx="289.49" cy="417.74" r="0.8" fill="#d9a6b6"/><rect x="288.82000000000005" y="424.64" width="1.8" height="1.6" fill="#5a2a3a"/><circle cx="293.71" cy="417.74" r="0.8" fill="#d9a6b6"/><rect x="293.04" y="424.64" width="1.8" height="1.6" fill="#5a2a3a"/><circle cx="297.93" cy="417.74" r="0.8" fill="#d9a6b6"/><rect x="297.27000000000004" y="424.64" width="1.8" height="1.6" fill="#5a2a3a"/><circle cx="302.16" cy="417.74" r="0.8" fill="#d9a6b6"/><rect x="301.49" y="424.64" width="1.8" height="1.6" fill="#5a2a3a"/><circle cx="306.38" cy="417.74" r="0.8" fill="#d9a6b6"/><rect x="305.72" y="424.64" width="1.8" height="1.6" fill="#5a2a3a"/><circle cx="310.61" cy="417.74" r="0.8" fill="#d9a6b6"/><rect x="309.94" y="424.64" width="1.8" height="1.6" fill="#5a2a3a"/><circle cx="314.83" cy="417.74" r="0.8" fill="#d9a6b6"/><rect x="314.16" y="424.64" width="1.8" height="1.6" fill="#5a2a3a"/><circle cx="218.67" cy="418.67" r="4.9" fill="#4d4e52"/><circle cx="218.67" cy="418.67" r="3.4" fill="#76777b"/><circle cx="218.67" cy="419.17" r="2.3" fill="#1a1a1c"/><rect x="217.5" y="411.67" width="2.2" height="2.4" fill="#5a5b5f"/><rect x="206.42" y="413.42" width="1.9" height="4.6" rx="0.9" fill="#fff"/><rect x="326.71" y="414.94" width="1.9" height="4.6" rx="0.9" fill="#fff"/><rect x="211.67" y="361.27" width="1.9" height="4.6" rx="0.9" fill="#fff"/><rect x="323.21" y="362.67" width="1.9" height="4.6" rx="0.9" fill="#fff"/></g>
<polygon points="489.17,270.83 515.83,270.83 515.83,251.25 512.08,251.25 512.08,248.17 507.50,248.17 507.50,245.17 498.33,245.17 498.33,248.17 493.75,248.17 493.75,251.25 489.17,251.25" fill="#000"/><polygon points="491.83,268.17 513.17,268.17 513.17,253.92 509.42,253.92 509.42,250.83 505.00,250.83 505.00,247.83 501.00,247.83 501.00,250.83 496.42,250.83 496.42,253.92 491.83,253.92" fill="#fff"/>
<rect x="495.42" y="257.92" width="15.25" height="6.91" fill="#000"/>
<rect x="497.92" y="260.17" width="2.16" height="3.16" fill="#fff"/>
<rect x="501.92" y="260.17" width="2.16" height="3.16" fill="#fff"/>
<rect x="506.0" y="260.17" width="2.17" height="3.16" fill="#fff"/>
<polygon points="488.72,495.34 522.89,494.88 523.12,501.76 520.96,509.70 493.62,509.70 488.17,500.61 488.17,496.49" fill="#000" stroke="#000" stroke-width="0.5" stroke-linejoin="round"/>
<polygon points="491.15,496.30 522.25,495.71 522.25,501.58 519.82,507.45 494.04,507.77 491.33,500.29" fill="#fff" stroke="#fff" stroke-width="0.4" stroke-linejoin="round"/>
<circle cx="497.89" cy="497.4" r="1.2" fill="#000"/>
<circle cx="502.25" cy="497.4" r="1.2" fill="#000"/>
<circle cx="506.61" cy="497.4" r="1.2" fill="#000"/>
<circle cx="511.42" cy="497.4" r="1.2" fill="#000"/>
<circle cx="516.24" cy="497.4" r="1.2" fill="#000"/>
<circle cx="500.18" cy="505.34" r="1.2" fill="#000"/>
<circle cx="504.54" cy="505.34" r="1.2" fill="#000"/>
<circle cx="508.99" cy="505.34" r="1.2" fill="#000"/>
<circle cx="513.85" cy="505.34" r="1.2" fill="#000"/>
<g><path d="M500.82 308.42 A3.6 3.6 0 0 1 506.04 306.26" fill="none" stroke="#9aa3ad" stroke-width="0.35" opacity="0.8500000000000001"/><path d="M498.42 307.58 A6.0 6.0 0 0 1 507.12 303.98" fill="none" stroke="#9aa3ad" stroke-width="0.35" opacity="0.75"/><path d="M496.02 306.74 A8.4 8.4 0 0 1 508.20 301.70" fill="none" stroke="#9aa3ad" stroke-width="0.35" opacity="0.6499999999999999"/><circle cx="503.49" cy="310.33" r="1.25" fill="#f2667a"/><line x1="503.49" y1="311.73" x2="503.49" y2="317.12" stroke="#cfd8e2" stroke-width="1.1"/><rect x="499.03" y="316.56" width="8.83" height="6.32" rx="2" fill="#0d2a4c"/><ellipse cx="503.50" cy="317.63" rx="3.72" ry="1.72" fill="#1d4f80"/><line x1="503.49" y1="314.98" x2="503.49" y2="317.77" stroke="#e8eef5" stroke-width="0.9"/><ellipse cx="503.40" cy="322.75" rx="5.11" ry="1.25" fill="#0d2a4c"/><line x1="499.78" y1="322.88" x2="491.04" y2="347.04" stroke="#17426f" stroke-width="2.1" stroke-linecap="round"/><line x1="507.21" y1="322.88" x2="515.95" y2="347.04" stroke="#17426f" stroke-width="2.1" stroke-linecap="round"/><line x1="503.49" y1="322.88" x2="503.49" y2="357.08" stroke="#17426f" stroke-width="2.0" stroke-linecap="round"/><line x1="491.04" y1="347.04" x2="491.04" y2="350.2" stroke="#17426f" stroke-width="2.0" stroke-linecap="round"/><line x1="515.95" y1="347.04" x2="515.95" y2="350.2" stroke="#17426f" stroke-width="2.0" stroke-linecap="round"/><line x1="497.92" y1="328.64" x2="503.49" y2="330.32" stroke="#17426f" stroke-width="0.9" stroke-linecap="round"/><line x1="503.49" y1="330.32" x2="509.07" y2="328.64" stroke="#17426f" stroke-width="0.9" stroke-linecap="round"/><line x1="496.06" y1="334.03" x2="503.49" y2="335.71" stroke="#17426f" stroke-width="0.9" stroke-linecap="round"/><line x1="503.49" y1="335.71" x2="510.93" y2="334.03" stroke="#17426f" stroke-width="0.9" stroke-linecap="round"/><line x1="494.39" y1="339.42" x2="503.49" y2="341.1" stroke="#17426f" stroke-width="0.9" stroke-linecap="round"/><line x1="503.49" y1="341.1" x2="512.6" y2="339.42" stroke="#17426f" stroke-width="0.9" stroke-linecap="round"/><line x1="492.53" y1="344.72" x2="503.49" y2="346.39" stroke="#17426f" stroke-width="0.9" stroke-linecap="round"/><line x1="503.49" y1="346.39" x2="514.46" y2="344.72" stroke="#17426f" stroke-width="0.9" stroke-linecap="round"/><line x1="498.57" y1="326.6" x2="503.49" y2="335.89" stroke="#17426f" stroke-width="1.0" stroke-linecap="round"/><line x1="508.42" y1="326.6" x2="503.49" y2="335.89" stroke="#17426f" stroke-width="1.0" stroke-linecap="round"/><line x1="496.71" y1="332.17" x2="503.49" y2="341.47" stroke="#17426f" stroke-width="1.0" stroke-linecap="round"/><line x1="510.28" y1="332.17" x2="503.49" y2="341.47" stroke="#17426f" stroke-width="1.0" stroke-linecap="round"/><line x1="494.57" y1="338.68" x2="503.49" y2="348.44" stroke="#17426f" stroke-width="1.1" stroke-linecap="round"/><line x1="512.42" y1="338.68" x2="503.49" y2="348.44" stroke="#17426f" stroke-width="1.1" stroke-linecap="round"/><line x1="492.53" y1="344.72" x2="503.49" y2="354.48" stroke="#17426f" stroke-width="1.1" stroke-linecap="round"/><line x1="514.46" y1="344.72" x2="503.49" y2="354.48" stroke="#17426f" stroke-width="1.1" stroke-linecap="round"/><line x1="503.49" y1="330.32" x2="496.71" y2="332.17" stroke="#17426f" stroke-width="0.6" stroke-linecap="round"/><line x1="503.49" y1="330.32" x2="510.28" y2="332.17" stroke="#17426f" stroke-width="0.6" stroke-linecap="round"/><line x1="503.49" y1="335.89" x2="494.57" y2="338.68" stroke="#17426f" stroke-width="0.6" stroke-linecap="round"/><line x1="503.49" y1="335.89" x2="512.42" y2="338.68" stroke="#17426f" stroke-width="0.6" stroke-linecap="round"/><line x1="503.49" y1="341.47" x2="492.53" y2="344.72" stroke="#17426f" stroke-width="0.6" stroke-linecap="round"/><line x1="503.49" y1="341.47" x2="514.46" y2="344.72" stroke="#17426f" stroke-width="0.6" stroke-linecap="round"/></g>
<defs><linearGradient id="bolt" x1="0" y1="0" x2="1" y2="1"><stop offset="0" stop-color="#ffd21f"/><stop offset="0.5" stop-color="#ffb300"/><stop offset="1" stop-color="#ff9a00"/></linearGradient>
<linearGradient id="bolt2" x1="0" y1="1" x2="1" y2="0"><stop offset="0" stop-color="#ffd21f"/><stop offset="0.5" stop-color="#ffb300"/><stop offset="1" stop-color="#ff9a00"/></linearGradient></defs>
<polygon points="568.26,268.26 578.75,276.13 579.41,271.87 596.79,290.56 583.34,279.57 582.69,283.84" fill="url(#bolt)"/>
<polygon points="561.3,343.3 580.75,333.9 579.8,337.3 595.1,332.1 572.7,343.9 574.5,339.9" fill="url(#bolt2)"/>
<path d="M680.7 312 Q783 270 891 270.9" fill="none" stroke="#0b4fc7" stroke-width="2" stroke-dasharray="9.5 4.2"/>
<path d="M903.6 271 L891 266.3 L894 271 L891 275.9 Z" fill="#0b4fc7"/>
<path d="M678.5 325.5 C735 355 815 385 894.5 368.8" fill="none" stroke="#0b4fc7" stroke-width="2" stroke-dasharray="9.5 4.2"/>
<path d="M906.4 366 L893.6 363.2 L897 368.2 L896 373.4 Z" fill="#0b4fc7"/>
<defs>
<linearGradient id="bar" x1="0" y1="0" x2="0" y2="1"><stop offset="0" stop-color="#8ff0ee"/><stop offset="0.45" stop-color="#4aa8f2"/><stop offset="1" stop-color="#2b7cf0"/></linearGradient>
<linearGradient id="disc" x1="0" y1="0" x2="1" y2="0.8"><stop offset="0" stop-color="#3697f0"/><stop offset="0.55" stop-color="#49adee"/><stop offset="1" stop-color="#79d8f0"/></linearGradient>
<linearGradient id="cloudF" x1="0" y1="0.3" x2="1" y2="0.5"><stop offset="0" stop-color="#d2f8f0"/><stop offset="0.45" stop-color="#a6e0f2"/><stop offset="1" stop-color="#5fb2f0"/></linearGradient>
<linearGradient id="cloudS" x1="0" y1="0" x2="1" y2="0"><stop offset="0" stop-color="#1e8af5"/><stop offset="1" stop-color="#3aa4f2"/></linearGradient>
</defs>
<g><ellipse cx="648.9" cy="320.9" rx="28.3" ry="17.0" fill="#86e6f0"/><ellipse cx="648.2" cy="320.2" rx="27.2" ry="16.0" fill="url(#disc)"/><polygon points="606.11,311.02 614.63,306.05 614.63,317.84 606.11,322.67" fill="url(#bar)"/><polygon points="618.89,289.01 627.84,284.03 627.84,309.89 618.89,314.86" fill="url(#bar)"/><polygon points="631.68,289.01 640.62,284.03 640.62,303.21 631.68,308.18" fill="url(#bar)"/><polygon points="644.46,266.99 653.41,261.31 653.41,296.11 644.46,301.36" fill="url(#bar)"/><ellipse cx="652.56" cy="317.41" rx="9.5" ry="3.6" fill="#1c6ad2" opacity="0.6" transform="rotate(-22 652.56 317.41)"/><path d="M628.32 315.37 C627.14 310.46 629.11 304.56 633.73 302.59 C634.41 297.48 640.12 292.56 645.53 295.31 C648.48 292.56 654.38 293.54 656.05 298.66 C658.41 302.59 655.85 307.11 651.43 309.67 L638.64 317.73 C635.2 320.09 629.5 320.49 628.32 315.37 Z" fill="url(#cloudS)"/><path d="M629.2 315.88 C628.02 310.97 629.99 305.07 634.61 303.1 C635.3 297.99 641.0 293.07 646.41 295.83 C649.36 293.07 655.26 294.06 656.93 299.17 C659.29 303.1 656.74 307.63 652.31 310.18 L639.53 318.24 C636.09 320.6 630.38 321.0 629.2 315.88 Z" fill="url(#cloudS)"/><path d="M630.09 316.4 C628.91 311.48 630.88 305.58 635.5 303.61 C636.18 298.5 641.89 293.58 647.3 296.34 C650.25 293.58 656.15 294.57 657.82 299.68 C660.18 303.61 657.62 308.14 653.2 310.69 L640.41 318.76 C636.97 321.12 631.27 321.51 630.09 316.4 Z" fill="url(#cloudS)"/><path d="M630.97 316.91 C629.79 311.99 631.76 306.09 636.38 304.12 C637.07 299.01 642.77 294.1 648.18 296.85 C651.13 294.1 657.03 295.08 658.7 300.19 C661.06 304.12 658.51 308.65 654.08 311.2 L641.3 319.27 C637.86 321.63 632.15 322.02 630.97 316.91 Z" fill="#2791f4"/><path d="M631.86 317.42 C630.68 312.5 632.65 306.6 637.27 304.64 C637.95 299.52 643.66 294.61 649.07 297.36 C652.02 294.61 657.92 295.59 659.59 300.7 C661.95 304.64 659.39 309.16 654.97 311.72 L642.18 319.78 C638.74 322.14 633.04 322.53 631.86 317.42 Z" fill="#2791f4"/><path d="M632.74 317.93 C631.56 313.01 633.53 307.11 638.15 305.15 C638.84 300.03 644.54 295.12 649.95 297.87 C652.9 295.12 658.8 296.1 660.47 301.21 C662.83 305.15 660.28 309.67 655.85 312.23 L643.07 320.29 C639.63 322.65 633.92 323.04 632.74 317.93 Z" fill="#2791f4"/><path d="M633.63 318.44 C632.45 313.53 634.41 307.63 639.04 305.66 C639.72 300.55 645.43 295.63 650.84 298.38 C653.79 295.63 659.69 296.61 661.36 301.73 C663.72 305.66 661.16 310.18 656.74 312.74 L643.95 320.8 C640.51 323.16 634.81 323.55 633.63 318.44 Z" fill="#2791f4"/><path d="M634.41 318.91 C633.24 314.0 635.2 308.1 639.82 306.13 C640.51 301.02 646.21 296.1 651.62 298.85 C654.57 296.1 660.47 297.08 662.14 302.2 C664.5 306.13 661.95 310.65 657.52 313.21 L644.74 321.27 C641.3 323.63 635.59 324.03 634.41 318.91 Z" fill="url(#cloudF)"/></g>
<g><rect x="621.98" y="487.35" width="68.92" height="42.30" rx="1" fill="#ececee" /><rect x="621.98" y="487.35" width="68.92" height="2.40" rx="0" fill="#f4f4f5" /><rect x="621.98" y="527.25" width="68.92" height="2.40" rx="0" fill="#e2e2e4" /><circle cx="626.48" cy="491.63" r="2.4" fill="#3a3c3f" /><circle cx="626.48" cy="491.63" r="1.2" fill="#222" /><circle cx="686.25" cy="525.38" r="2.4" fill="#3a3c3f" /><circle cx="686.25" cy="525.38" r="1.2" fill="#222" /><rect x="646.65" y="491.1" width="22.35" height="35.25" rx="0" fill="#e1e2e4" /><rect x="637.13" y="491.1" width="8.02" height="35.25" rx="0" fill="#2b8a5b" /><rect x="645.0" y="491.1" width="1.65" height="35.25" rx="0" fill="#f3c419" /><polygon points="669.00,491.25 675.90,491.25 675.90,526.35 672.00,526.35 672.00,518.40 669.00,515.10" fill="#2b8a5b"/><rect x="670.88" y="518.63" width="1.20" height="7.72" rx="0" fill="#f3c419" /><rect x="639.38" y="496.13" width="0.97" height="2.10" rx="0" fill="#cfe6da" opacity="0.7"/><rect x="642.38" y="496.73" width="0.75" height="1.65" rx="0" fill="#cfe6da" opacity="0.5"/><rect x="639.38" y="504.75" width="0.97" height="2.10" rx="0" fill="#cfe6da" opacity="0.7"/><rect x="642.38" y="505.35" width="0.75" height="1.65" rx="0" fill="#cfe6da" opacity="0.5"/><rect x="639.38" y="513.0" width="0.97" height="2.10" rx="0" fill="#cfe6da" opacity="0.7"/><rect x="642.38" y="513.6" width="0.75" height="1.65" rx="0" fill="#cfe6da" opacity="0.5"/><rect x="639.38" y="519.0" width="0.97" height="2.10" rx="0" fill="#cfe6da" opacity="0.7"/><rect x="642.38" y="519.6" width="0.75" height="1.65" rx="0" fill="#cfe6da" opacity="0.5"/><rect x="639.38" y="522.0" width="0.97" height="2.10" rx="0" fill="#cfe6da" opacity="0.7"/><rect x="642.38" y="522.6" width="0.75" height="1.65" rx="0" fill="#cfe6da" opacity="0.5"/><rect x="671.25" y="495.0" width="0.75" height="2.63" rx="0" fill="#cfe6da" opacity="0.55"/><rect x="673.88" y="495.75" width="0.75" height="2.25" rx="0" fill="#cfe6da" opacity="0.55"/><rect x="671.25" y="502.5" width="0.75" height="2.63" rx="0" fill="#cfe6da" opacity="0.55"/><rect x="673.88" y="503.25" width="0.75" height="2.25" rx="0" fill="#cfe6da" opacity="0.55"/><rect x="671.25" y="510.0" width="0.75" height="2.63" rx="0" fill="#cfe6da" opacity="0.55"/><rect x="673.88" y="510.75" width="0.75" height="2.25" rx="0" fill="#cfe6da" opacity="0.55"/><rect x="671.25" y="515.25" width="0.75" height="2.63" rx="0" fill="#cfe6da" opacity="0.55"/><rect x="673.88" y="516.0" width="0.75" height="2.25" rx="0" fill="#cfe6da" opacity="0.55"/><rect x="665.4" y="492.75" width="2.70" height="0.68" rx="0" fill="#a9cdb9" opacity="0.55"/><rect x="665.4" y="494.4" width="2.70" height="0.68" rx="0" fill="#a9cdb9" opacity="0.55"/><rect x="665.4" y="496.05" width="2.70" height="0.68" rx="0" fill="#a9cdb9" opacity="0.55"/><rect x="665.4" y="497.7" width="2.70" height="0.68" rx="0" fill="#a9cdb9" opacity="0.55"/><rect x="665.4" y="499.35" width="2.70" height="0.68" rx="0" fill="#a9cdb9" opacity="0.55"/><rect x="665.4" y="501.0" width="2.70" height="0.68" rx="0" fill="#a9cdb9" opacity="0.55"/><rect x="665.4" y="502.65" width="2.70" height="0.68" rx="0" fill="#a9cdb9" opacity="0.55"/><rect x="665.4" y="504.3" width="2.70" height="0.68" rx="0" fill="#a9cdb9" opacity="0.55"/><rect x="665.4" y="505.95" width="2.70" height="0.68" rx="0" fill="#a9cdb9" opacity="0.55"/><rect x="665.4" y="507.6" width="2.70" height="0.68" rx="0" fill="#a9cdb9" opacity="0.55"/><rect x="665.4" y="509.25" width="2.70" height="0.68" rx="0" fill="#a9cdb9" opacity="0.55"/><rect x="665.4" y="510.9" width="2.70" height="0.68" rx="0" fill="#a9cdb9" opacity="0.55"/><g transform="rotate(-90 654.6 508.5)"><text x="647.2" y="510.6" font-family="'Liberation Sans','Noto Sans CJK SC',sans-serif" font-size="5" font-weight="bold" fill="#2b8a5b">二主站</text></g><g transform="rotate(-90 660.0 508.88)"><text x="647.6" y="510.2" font-family="'Liberation Sans','Noto Sans CJK SC',sans-serif" font-size="3.7" font-weight="bold" fill="#2b8a5b">485通信交换机</text></g><rect x="624.38" y="495.0" width="10.50" height="10.13" rx="0" fill="#1f7a40" /><rect x="628.88" y="497.63" width="5.25" height="4.50" rx="0" fill="#d9dadb" /><circle cx="630.9" cy="499.88" r="1.1" fill="#111" /><polygon points="619.13,508.50 621.75,505.50 623.25,505.50 623.25,511.88 621.75,511.88" fill="#e3e5e6" stroke="#c9cbcd" stroke-width="0.3"/><rect x="622.88" y="504.0" width="11.77" height="9.53" rx="0" fill="#3db54e" /><rect x="629.63" y="504.0" width="5.02" height="9.53" rx="0" fill="#2f9d45" /><circle cx="626.25" cy="506.63" r="1.45" fill="#f4f4f4" /><circle cx="626.25" cy="510.75" r="1.45" fill="#f4f4f4" /><rect x="623.25" y="514.88" width="11.63" height="7.72" rx="0.6" fill="#151517" /><rect x="625.13" y="516.38" width="9.75" height="1.12" rx="0" fill="#2c2c2f" /><rect x="678.0" y="495.9" width="9.00" height="2.10" rx="0" fill="#141416" /><rect x="678.0" y="513.38" width="9.00" height="1.27" rx="0" fill="#2a2a2d" /><rect x="678.0" y="497.63" width="12.00" height="16.12" rx="0" fill="#3db54e" /><rect x="678.0" y="497.63" width="5.25" height="16.12" rx="0" fill="#35a348" /><circle cx="686.63" cy="499.13" r="1.35" fill="#f4f4f4" /><rect x="679.88" y="498.53" width="3.00" height="0.75" rx="0" fill="#2b8f3d" opacity="0.8"/><circle cx="686.63" cy="503.25" r="1.35" fill="#f4f4f4" /><rect x="679.88" y="502.65" width="3.00" height="0.75" rx="0" fill="#2b8f3d" opacity="0.8"/><circle cx="686.63" cy="507.38" r="1.35" fill="#f4f4f4" /><rect x="679.88" y="506.78" width="3.00" height="0.75" rx="0" fill="#2b8f3d" opacity="0.8"/><circle cx="686.63" cy="511.5" r="1.35" fill="#f4f4f4" /><rect x="679.88" y="510.9" width="3.00" height="0.75" rx="0" fill="#2b8f3d" opacity="0.8"/><polygon points="690.00,507.00 691.65,508.50 690.00,510.00" fill="#bcbec0"/></g>
<defs>
<linearGradient id="cone" x1="0" y1="0" x2="1" y2="0.6"><stop offset="0" stop-color="#b9bbc0" stop-opacity="0.95"/><stop offset="0.6" stop-color="#dfe0e3" stop-opacity="0.8"/><stop offset="1" stop-color="#f6f6f7" stop-opacity="0.2"/></linearGradient>
<linearGradient id="jacket" x1="0" y1="0" x2="1" y2="1"><stop offset="0" stop-color="#52aef0"/><stop offset="1" stop-color="#2f86d8"/></linearGradient>
<linearGradient id="shadowR" x1="0" y1="0" x2="1" y2="0"><stop offset="0" stop-color="#666" stop-opacity="0.55"/><stop offset="1" stop-color="#999" stop-opacity="0"/></linearGradient>
</defs>
<g><polygon points="981.92,247.92 984.14,247.10 984.14,256.44 982.15,256.90" fill="#eef0f6" /><polygon points="955.08,275.34 960.10,263.90 968.50,261.34 981.34,258.42 982.04,261.92 971.07,266.24 964.54,280.00 961.50,281.17" fill="#1b2f7c" /><polygon points="960.10,263.90 965.00,263.09 960.57,278.25 957.42,277.09" fill="#233a92" /><polygon points="958.58,244.07 968.50,238.93 976.09,238.58 981.10,241.50 982.04,254.92 979.59,257.25 970.25,253.40 965.00,250.25" fill="#3f9166" /><polygon points="968.50,238.93 976.09,238.58 981.10,241.50 982.04,254.92 979.59,257.25 976.67,248.50" fill="#2f7552" /><line x1="961.5" y1="240.57" x2="965.0" y2="254.34" stroke="#1f5a3e" stroke-width="0.5" opacity="0.7"/><line x1="965.47" y1="241.27" x2="968.97" y2="254.8" stroke="#1f5a3e" stroke-width="0.5" opacity="0.7"/><line x1="969.44" y1="241.97" x2="972.94" y2="255.27" stroke="#1f5a3e" stroke-width="0.5" opacity="0.7"/><line x1="973.4" y1="242.67" x2="976.9" y2="255.74" stroke="#1f5a3e" stroke-width="0.5" opacity="0.7"/><line x1="977.37" y1="243.37" x2="980.87" y2="256.2" stroke="#1f5a3e" stroke-width="0.5" opacity="0.7"/><line x1="959.17" y1="245.0" x2="981.34" y2="242.08" stroke="#7fc59c" stroke-width="0.4" opacity="0.6"/><line x1="960.33" y1="248.27" x2="981.34" y2="245.82" stroke="#7fc59c" stroke-width="0.4" opacity="0.6"/><line x1="961.5" y1="251.54" x2="981.34" y2="249.55" stroke="#7fc59c" stroke-width="0.4" opacity="0.6"/><line x1="962.67" y1="254.8" x2="981.34" y2="253.29" stroke="#7fc59c" stroke-width="0.4" opacity="0.6"/><ellipse cx="971.42" cy="234.73" rx="3.03" ry="3.50" fill="#f4c9b2" /><ellipse cx="972.94" cy="236.37" rx="1.05" ry="1.05" fill="#f0555a" opacity="0.85"/><polygon points="969.67,237.53 973.40,238.00 972.94,240.57 970.25,240.10" fill="#f1c0a8" /><ellipse cx="969.44" cy="234.5" rx="1.05" ry="0.93" fill="#fff" stroke="#3a3a55" stroke-width="0.3"/><polygon points="964.77,230.07 967.10,227.27 970.25,225.17 973.40,227.50 976.44,228.67 975.74,233.92 974.10,236.83 973.40,232.17 969.67,231.00 967.57,232.75 966.40,231.93" fill="#5c2f1d" /><polygon points="939.92,246.40 945.75,243.25 979.59,256.90 965.00,265.07" fill="#eceef7" /><polygon points="939.92,246.40 965.00,265.07 965.00,266.94 939.92,248.27" fill="#cfd3e6" /><polygon points="965.00,265.07 979.59,256.90 979.59,258.54 965.00,266.94" fill="#dfe2f0" /><polygon points="940.85,248.50 942.13,249.44 942.13,261.92 941.08,261.34" fill="#c9cde0" /><polygon points="963.37,266.00 964.77,266.94 964.54,279.07 963.37,278.37" fill="#c9cde0" /><polygon points="977.84,258.54 979.24,257.84 979.24,271.84 978.07,272.07" fill="#d9dcec" /><polygon points="944.00,242.20 947.50,241.73 947.27,246.75 944.47,247.10" fill="#3d8c57" /><ellipse cx="945.75" cy="241.97" rx="1.75" ry="0.70" fill="#5fae78" /><polygon points="950.07,240.10 961.73,246.40 962.90,257.60 952.17,250.25" fill="#27272b" /><polygon points="951.23,241.97 960.80,247.10 961.73,256.09 952.87,249.67" fill="#3b3b41" /><polygon points="962.90,257.60 969.44,254.92 967.10,252.24 961.73,254.34" fill="#8a8ea6" /><ellipse cx="965.0" cy="250.25" rx="1.17" ry="1.05" fill="#f4c9b2" /><polygon points="962.90,247.10 965.00,245.94 966.40,249.09 963.84,250.25" fill="#f7f7f7" /><polygon points="1010.50,279.77 1019.84,278.60 1031.51,279.07 1021.00,281.40" fill="url(#shadowR)"/><polygon points="1002.57,245.00 1008.40,245.00 1007.94,260.17 1007.24,274.40 1004.67,274.40 1003.74,260.17" fill="#68718f" /><polygon points="1007.94,245.00 1013.54,245.00 1013.77,260.17 1013.54,273.94 1010.97,273.94 1009.80,260.17" fill="#5d6685" /><polygon points="1004.20,274.40 1007.94,274.40 1009.34,278.84 1008.87,281.40 1003.50,281.40 1003.27,278.84" fill="#f3a31c" /><polygon points="1010.74,273.94 1014.00,273.94 1019.84,278.60 1019.60,280.47 1010.50,280.70" fill="#f0981a" /><polygon points="1003.50,280.70 1009.10,280.70 1008.87,281.87 1003.74,281.87" fill="#f4f4f4" /><polygon points="1010.50,280.00 1019.60,279.77 1019.60,280.94 1010.74,281.17" fill="#f4f4f4" /><polygon points="999.77,228.67 1005.60,223.77 1011.67,224.23 1015.75,228.67 1017.74,232.40 1013.54,234.50 1013.30,245.00 1002.57,245.70 1000.00,235.08" fill="url(#jacket)"/><polygon points="1007.94,224.93 1010.97,224.93 1010.97,244.54 1008.40,244.54" fill="#e3a571" /><polygon points="1008.87,226.33 1010.27,226.33 1010.50,243.84 1008.87,243.84" fill="#f4d9b8" /><polygon points="1004.67,232.17 1014.00,227.27 1015.17,228.90 1006.07,234.27" fill="#4aa6ea" /><polygon points="1013.07,227.50 1016.34,225.75 1017.27,227.50 1014.24,229.60" fill="#f2c2a2" /><polygon points="1015.75,229.25 1017.50,229.83 1017.04,232.87 1015.17,232.17" fill="#e8905a" /><polygon points="1014.70,224.23 1016.57,224.00 1016.80,228.67 1015.17,228.90" fill="#2a2a30" /><ellipse cx="1008.4" cy="220.27" rx="2.33" ry="3.03" fill="#f2c2a2" /><polygon points="1003.97,217.00 1005.25,214.43 1008.75,213.50 1011.44,215.25 1011.20,218.40 1009.34,217.23 1007.24,217.70 1006.07,221.08 1004.67,220.27" fill="#2b2420" /><polygon points="1016.57,225.75 1048.42,239.40 1058.34,245.00 1034.42,264.84 1032.67,260.17" fill="url(#cone)"/><polygon points="1046.67,253.17 1050.17,253.40 1053.67,264.84 1056.94,277.67 1046.67,277.90 1042.01,270.67 1035.59,267.17 1035.01,264.84" fill="#f2aeb0" /><polygon points="1031.27,251.07 1034.42,250.25 1034.42,264.84 1031.74,263.90" fill="#f2aeb0" /><rect x="1033.61" y="239.75" width="15.63" height="27.07" rx="1.6" fill="#0f131d" stroke="#3a4055" stroke-width="0.4"/><rect x="1034.77" y="241.27" width="13.30" height="24.03" rx="1" fill="#141b2c"/><ellipse cx="1041.42" cy="244.54" rx="2.33" ry="1.05" fill="#e8eaee" /><polygon points="1036.76,247.10 1046.09,247.10 1046.09,248.50 1036.76,248.50" fill="#aeb4c2" opacity="0.8"/><polygon points="1035.59,250.84 1047.26,250.84 1047.26,251.54 1035.59,251.54" fill="#5a6175" opacity="0.8"/><polygon points="1035.24,254.92 1047.84,254.92 1047.84,256.55 1035.24,256.55" fill="#3fd07a" /><polygon points="1037.92,258.42 1043.76,257.60 1044.34,259.59 1038.51,260.17" fill="#3a6fd0" opacity="0.9"/><polygon points="1035.01,261.92 1042.01,260.40 1045.51,262.50 1044.92,265.07 1035.01,265.30" fill="#1f58c8" opacity="0.85"/><polygon points="1042.01,262.50 1046.67,260.87 1049.59,262.74 1048.77,264.84 1043.76,264.84" fill="#f4b6b8" /></g>
<defs>
<linearGradient id="shirt2" x1="0" y1="0" x2="0" y2="1"><stop offset="0" stop-color="#3ea2f2"/><stop offset="1" stop-color="#5b4fe2"/></linearGradient>
<linearGradient id="pants2" x1="0" y1="0" x2="0" y2="1"><stop offset="0" stop-color="#f3b31f"/><stop offset="0.55" stop-color="#f18a2a"/><stop offset="1" stop-color="#ee4a36"/></linearGradient>
<linearGradient id="shadowL" x1="1" y1="0" x2="0" y2="0"><stop offset="0" stop-color="#222" stop-opacity="0.7"/><stop offset="1" stop-color="#888" stop-opacity="0"/></linearGradient>
</defs>
<g><polygon points="933.25,377.79 946.25,379.20 951.67,384.29 943.00,384.83" fill="url(#shadowL)"/><polygon points="950.04,350.82 959.90,350.82 962.07,378.98 956.22,379.42 955.13,361.00 952.32,378.98 946.25,378.55" fill="url(#pants2)"/><polygon points="944.62,381.37 948.42,379.42 952.21,380.28 952.53,383.97 945.17,384.62" fill="#3d7fe2" /><polygon points="956.65,380.50 960.87,379.85 962.07,382.67 961.63,385.27 956.87,384.83" fill="#3d7fe2" /><polygon points="944.95,383.75 952.53,383.32 952.53,384.62 945.17,385.05" fill="#22304f" /><polygon points="956.87,384.18 961.63,384.62 961.63,385.70 956.87,385.48" fill="#22304f" /><polygon points="935.20,343.88 937.58,343.45 940.29,344.75 947.87,345.40 948.20,348.22 939.75,347.13 936.50,346.05" fill="#f3c0a0" /><polygon points="946.03,344.21 949.28,337.38 958.38,336.52 962.72,339.33 961.63,345.40 960.01,349.73 950.04,349.73 950.37,346.05" fill="url(#shirt2)"/><polygon points="950.04,349.30 959.90,349.30 959.90,351.03 950.04,351.03" fill="#1c1c20" /><polygon points="955.78,332.83 958.38,334.13 962.28,341.28 961.20,346.05 959.25,344.21 957.95,339.33" fill="#f0b695" /><ellipse cx="955.78" cy="332.83" rx="2.38" ry="2.82" fill="#f3c0a0" /><polygon points="951.45,329.37 953.29,327.42 957.08,327.20 959.47,328.72 959.25,331.21 956.54,330.23 954.05,331.10 952.97,332.40" fill="#20242c" /><polygon points="957.95,331.97 959.68,331.75 960.12,334.35 958.60,334.57" fill="#3a86e8" /><path d="M986.33 359.37 L986.33 348.0 A8.02 8.23 0 0 1 1002.36 348.0 L1002.36 359.37 Z" fill="#ff0000"/><rect x="983.95" y="359.05" width="21.01" height="2.92" rx="1.1" fill="#ff0000"/><line x1="994.46" y1="331.53" x2="994.46" y2="336.62" stroke="#ff0000" stroke-width="1.5" stroke-linecap="round"/><line x1="984.38" y1="335.0" x2="987.42" y2="339.33" stroke="#ff0000" stroke-width="1.5" stroke-linecap="round"/><line x1="1004.53" y1="335.0" x2="1001.5" y2="339.33" stroke="#ff0000" stroke-width="1.5" stroke-linecap="round"/><line x1="979.4" y1="342.58" x2="984.71" y2="344.53" stroke="#ff0000" stroke-width="1.5" stroke-linecap="round"/><line x1="1009.51" y1="342.58" x2="1004.31" y2="344.53" stroke="#ff0000" stroke-width="1.5" stroke-linecap="round"/><polygon points="995.65,346.27 991.53,353.63 994.13,353.63 992.62,357.75 997.81,350.38 995.00,350.38" fill="#fff" /><ellipse cx="1024.46" cy="343.45" rx="10.62" ry="7.69" fill="#12b215" /><polygon points="1018.61,349.62 1017.31,354.72 1023.38,350.82" fill="#12b215" /><ellipse cx="1034.86" cy="351.47" rx="9.53" ry="7.80" fill="#12b215" stroke="#fff" stroke-width="0.9"/><polygon points="1038.33,357.53 1041.36,359.92 1040.28,356.45" fill="#12b215" /><ellipse cx="1021.32" cy="341.93" rx="1.41" ry="1.19" fill="#fff" /><ellipse cx="1028.58" cy="341.93" rx="1.41" ry="1.19" fill="#fff" /><ellipse cx="1032.26" cy="349.52" rx="1.19" ry="1.03" fill="#fff" /><ellipse cx="1038.33" cy="349.52" rx="1.19" ry="1.03" fill="#fff" /><rect x="980.05" y="369.12" width="23.94" height="23.51" rx="4.6" fill="#14dd62"/><ellipse cx="991.97" cy="379.96" rx="8.67" ry="6.39" fill="#fff" /><polygon points="986.33,384.29 986.55,388.08 990.67,385.70" fill="#fff" /><rect x="1013.96" y="368.04" width="31.09" height="23.83" rx="1.8" fill="#2a80e2"/><path d="M1013.96 372.05 L1029.45 384.4 L1045.05 372.05" fill="none" stroke="#fff" stroke-width="1.5"/><line x1="1013.96" y1="391.66" x2="1024.46" y2="382.67" stroke="#fff" stroke-width="1.5" /><line x1="1045.05" y1="391.66" x2="1034.43" y2="382.67" stroke="#fff" stroke-width="1.5" /></g>
<defs>
<linearGradient id="scr" x1="0" y1="0" x2="1" y2="1"><stop offset="0" stop-color="#cfd9de"/><stop offset="0.5" stop-color="#e6ecef"/><stop offset="1" stop-color="#f3f6f7"/></linearGradient>
<linearGradient id="camB" x1="0" y1="0" x2="0" y2="1"><stop offset="0" stop-color="#8b8b90"/><stop offset="0.5" stop-color="#77777c"/><stop offset="1" stop-color="#55555a"/></linearGradient>
<linearGradient id="camH" x1="0" y1="0" x2="0" y2="1"><stop offset="0" stop-color="#5a5a60"/><stop offset="1" stop-color="#3c3a42"/></linearGradient>
</defs>
<g><polygon points="974.10,441.40 1011.75,430.90 1011.90,482.13 974.10,472.00" fill="#1a1816" /><polygon points="1008.75,431.73 1011.75,430.90 1011.90,482.13 1008.90,481.30" fill="#0f0e0d" /><polygon points="976.65,444.10 1006.88,436.75 1006.88,476.50 977.10,469.38" fill="url(#scr)"/><polygon points="976.65,444.10 1006.88,436.75 1006.88,438.70 976.65,445.90" fill="#4aa79f" /><polygon points="976.65,445.90 1006.88,438.70 1006.88,440.65 976.65,447.55" fill="#b9c6cc" /><polygon points="977.70,448.15 987.15,445.90 987.15,472.00 977.85,469.75" fill="#c9d3d8" opacity="0.8"/><polygon points="988.50,449.88 1004.40,446.35 1004.40,457.90 988.50,459.85" fill="#cfe3ee" /><polygon points="989.63,453.63 995.25,451.00 1002.00,451.38 1003.13,456.25 997.50,457.38 991.50,457.00" fill="#8fa3ad" opacity="0.8"/><polygon points="997.13,452.88 1002.00,452.50 1002.90,456.63 997.88,457.60" fill="#ee8fa0" opacity="0.85"/><polygon points="988.88,453.63 991.50,453.25 991.88,456.25 989.10,456.40" fill="#2f2f33" opacity="0.8"/><polygon points="978.75,450.25 982.50,449.35 982.50,452.88 978.75,453.40" fill="#5bb58a" opacity="0.8"/><polygon points="1002.15,443.88 1005.60,443.13 1005.60,445.38 1002.15,446.05" fill="#2e9fe0" /><polygon points="1017.38,433.00 1020.38,430.75 1022.40,432.40 1028.63,446.50 1032.75,468.70 1029.75,481.75 1024.95,479.95 1022.25,466.00 1020.00,457.00 1017.90,446.50" fill="#1b1a19" /><path d="M1021.35 434.13 L1027.88 448.75 L1031.63 468.85" fill="none" stroke="#8d6c32" stroke-width="0.5" opacity="0.9"/><polygon points="1017.38,446.50 1020.00,446.50 1022.85,466.38 1020.90,466.75" fill="#262422" /></g>
<g><polygon points="937.05,520.37 984.08,520.37 984.37,525.33 988.62,525.33 990.03,568.54 931.38,568.54 932.80,525.33 936.62,525.33" fill="#26262a" /><polygon points="937.05,520.37 984.08,520.37 984.37,525.33 936.62,525.33" fill="#303034" /><rect x="942.01" y="525.9" width="37.82" height="33.43" rx="0.8" fill="#eef1f5" /><path d="M942.01 552.96 Q960.71 550.12 979.83 552.96 L979.83 559.33 L942.01 559.33 Z" fill="#1f3b8f"/><path d="M942.01 553.24 Q960.71 549.98 979.83 553.24" fill="none" stroke="#d8342f" stroke-width="0.7"/><ellipse cx="946.54" cy="532.13" rx="1.84" ry="1.70" fill="#2a4fd0" /><ellipse cx="946.54" cy="532.13" rx="0.99" ry="0.85" fill="#d8232a" /><rect x="949.37" y="530.57" width="26.92" height="2.70" rx="0" fill="#22408f" opacity="0.9"/><rect x="949.37" y="534.26" width="9.50" height="1.13" rx="0" fill="#44559a" opacity="0.8"/><rect x="958.3" y="538.37" width="4.96" height="2.83" rx="0.5" fill="#e23a3a" /><rect x="946.97" y="540.92" width="5.38" height="5.38" rx="0.8" fill="#1f3f8f" /><rect x="969.21" y="540.92" width="5.38" height="5.38" rx="0.8" fill="#1f3f8f" /><ellipse cx="949.66" cy="543.61" rx="1.42" ry="1.13" fill="#dfe6f5" /><ellipse cx="971.9" cy="543.61" rx="1.42" ry="1.13" fill="#dfe6f5" /><rect x="952.35" y="543.32" width="16.86" height="0.57" rx="0" fill="#b9c3d8" /><rect x="946.54" y="548.57" width="29.04" height="1.41" rx="0" fill="#8a93a8" opacity="0.8"/><rect x="945.12" y="554.8" width="4.25" height="1.70" rx="0" fill="#dfe6f5" opacity="0.9"/><rect x="953.62" y="554.37" width="4.25" height="1.00" rx="0" fill="#c9d3ea" opacity="0.8"/><rect x="963.12" y="554.09" width="13.17" height="1.13" rx="0" fill="#c9d3ea" opacity="0.8"/><rect x="963.12" y="556.22" width="13.17" height="1.41" rx="0" fill="#c9d3ea" opacity="0.7"/><rect x="942.72" y="562.17" width="8.21" height="6.51" rx="0.4" fill="#ececec" /><rect x="951.64" y="562.17" width="8.22" height="6.51" rx="0.4" fill="#ececec" /><rect x="944.42" y="564.29" width="4.95" height="2.83" rx="0" fill="#d2d2d2" /><rect x="953.34" y="564.29" width="4.96" height="2.83" rx="0" fill="#d2d2d2" /><rect x="962.12" y="562.17" width="12.05" height="5.10" rx="0" fill="#2ea65c" /><rect x="962.12" y="562.17" width="12.05" height="1.70" rx="0" fill="#1f8547" /><rect x="958.87" y="568.54" width="4.25" height="1.84" rx="0" fill="#d62a2a" /><ellipse cx="936.62" cy="562.87" rx="1.56" ry="1.56" fill="#0c0c0e" /><ellipse cx="983.8" cy="562.87" rx="1.56" ry="1.56" fill="#0c0c0e" /><ellipse cx="934.5" cy="527.46" rx="0.99" ry="0.99" fill="#0c0c0e" /><ellipse cx="986.63" cy="527.46" rx="0.99" ry="0.99" fill="#0c0c0e" /><line x1="989.04" y1="542.05" x2="1035.36" y2="542.05" stroke="#000" stroke-width="1.4"/><ellipse cx="1029.9" cy="559.4" rx="6.12" ry="11.28" fill="#55555a" transform="rotate(-4 1029.9 559.4)" /><ellipse cx="1029.48" cy="559.4" rx="5.52" ry="10.68" fill="#707074" transform="rotate(-4 1029.48 559.4)" /><ellipse cx="1031.1" cy="551.12" rx="0.72" ry="0.84" fill="#38383c" transform="rotate(0 1031.1 551.12)" /><ellipse cx="1031.1" cy="566.36" rx="0.72" ry="0.84" fill="#38383c" transform="rotate(0 1031.1 566.36)" /><polygon points="1028.40,554.00 1047.60,558.32 1048.20,564.20 1029.00,561.32" fill="#5a5a5f" /><polygon points="1028.40,554.00 1047.60,558.32 1047.72,560.00 1028.52,555.92" fill="#77777b" /><polygon points="1044.60,546.20 1056.00,549.80 1053.60,554.00 1051.80,557.60 1048.20,557.00 1046.40,551.60" fill="#3a3a3e" /><polygon points="1045.80,548.00 1053.60,550.40 1052.70,552.20 1046.70,550.40" fill="#b9babd" /><ellipse cx="1047.0" cy="554.72" rx="1.32" ry="1.56" fill="#d9dadc" transform="rotate(0 1047.0 554.72)" /><polygon points="1048.68,553.40 1051.20,554.00 1050.30,557.00 1048.20,556.40" fill="#1d1d20" /><polygon points="1047.30,558.92 1054.68,558.08 1054.92,563.60 1047.60,564.50" fill="#232326" /><polygon points="1049.28,565.16 1052.88,564.80 1052.88,566.72 1049.40,567.08" fill="#b5b6b9" /><polygon points="1039.08,532.28 1065.60,537.92 1074.30,528.80 1080.60,533.00 1080.00,546.20 1072.80,552.80 1069.20,553.10 1044.00,544.70 1040.10,540.80" fill="url(#camB)"/><polygon points="1044.00,544.40 1069.68,551.72 1069.68,553.52 1044.60,546.20" fill="#4d3f50" /><ellipse cx="1074.0" cy="539.9" rx="7.32" ry="11.16" fill="#3f3f44" transform="rotate(14 1074.0 539.9)" /><ellipse cx="1073.28" cy="539.9" rx="5.76" ry="9.36" fill="#57575c" transform="rotate(14 1073.28 539.9)" /><ellipse cx="1072.08" cy="539.6" rx="3.96" ry="5.88" fill="#2c2c30" transform="rotate(12 1072.08 539.6)" /><ellipse cx="1070.88" cy="539.12" rx="2.64" ry="3.48" fill="#0c0c0e" transform="rotate(10 1070.88 539.12)" /><ellipse cx="1071.72" cy="538.1" rx="0.72" ry="0.96" fill="#e8e8ea" transform="rotate(10 1071.72 538.1)" /><polygon points="1035.72,530.90 1038.00,525.20 1042.20,522.32 1077.60,527.00 1083.60,528.80 1086.30,532.40 1086.96,535.52 1084.56,536.00 1082.40,531.80 1079.10,528.68 1075.80,527.96 1071.60,531.92 1065.60,537.92" fill="url(#camH)"/><polygon points="1075.80,527.96 1079.10,528.68 1082.40,531.80 1084.56,536.00 1086.96,535.52 1086.30,532.40 1083.60,528.80 1077.60,527.00" fill="#3b2f3e" /><path d="M1035.72 530.96 L1065.6 537.92 L1071.72 531.92 L1075.8 527.96" fill="none" stroke="#4f1f52" stroke-width="0.45"/></g>
<defs>
<linearGradient id="steelV" x1="0" y1="0" x2="0" y2="1"><stop offset="0" stop-color="#8b8d91"/><stop offset="0.35" stop-color="#eeeeef"/><stop offset="0.7" stop-color="#b3b5b8"/><stop offset="1" stop-color="#77797d"/></linearGradient>
<radialGradient id="ball" cx="0.4" cy="0.35" r="0.75"><stop offset="0" stop-color="#f6f6f7"/><stop offset="0.45" stop-color="#c4c6c8"/><stop offset="0.8" stop-color="#8d8f93"/><stop offset="1" stop-color="#5a5c60"/></radialGradient>
<linearGradient id="blueH" x1="0" y1="0" x2="0" y2="1"><stop offset="0" stop-color="#45a4ee"/><stop offset="1" stop-color="#2079d2"/></linearGradient>
<linearGradient id="blueT" x1="0" y1="0" x2="1" y2="1"><stop offset="0" stop-color="#4aa6dc"/><stop offset="1" stop-color="#2f86c8"/></linearGradient>
<radialGradient id="ring" cx="0.5" cy="0.5" r="0.5"><stop offset="0.62" stop-color="#c9cbcd"/><stop offset="0.72" stop-color="#f3f3f4"/><stop offset="0.92" stop-color="#e6e7e8"/><stop offset="1" stop-color="#b9bbbd"/></radialGradient>
</defs>
<g><path d="M162.30 765.4 Q164.60 765.0 164.50 768.4 L164.70 772 Q166.00 777.8 164.70 783.6 L164.50 788 Q164.40 791 162.60 790.6 Q161.30 778 162.30 765.4 Z" fill="#2f8be6"/><path d="M162.30 766 Q161.60 778 162.60 790.4" fill="none" stroke="#6db4f2" stroke-width="0.6"/><path d="M167.00 775.4 L170.80 773.2 L178.40 773.2 L182.20 776.2 L182.20 779.2 L178.40 782.4 L170.80 782.4 L167.00 780.2 Z" fill="#f3f3f4" stroke="#8e9094" stroke-width="0.9" stroke-linejoin="round"/><rect x="170.20" y="774.20" width="0.80" height="7.20" rx="0" fill="#9a9c9f" /><rect x="166.00" y="777.10" width="17.00" height="1.30" rx="0" fill="#4a4b4e" /><rect x="174.80" y="776.20" width="3.20" height="3.10" rx="0.6" fill="#3a3b3e" /><rect x="172.00" y="776.80" width="2.20" height="2.00" rx="0" fill="#77797c" /><rect x="182.20" y="768.60" width="2.80" height="18.30" rx="0.7" fill="url(#steelV)" /><rect x="185.50" y="769.40" width="2.50" height="16.70" rx="0.7" fill="url(#steelV)" /><rect x="182.20" y="768.60" width="2.80" height="18.30" rx="0.7" fill="none" stroke="#55575b" stroke-width="0.35"/><rect x="183.60" y="768.50" width="4.20" height="2.20" rx="0.6" fill="#1f2023" /><rect x="183.60" y="785.00" width="4.20" height="1.90" rx="0.6" fill="#1f2023" /><rect x="184.40" y="776.00" width="4.40" height="3.60" rx="0" fill="#151517" /><rect x="188.40" y="772.20" width="6.20" height="10.60" rx="0" fill="url(#steelV)" /><rect x="188.60" y="771.60" width="3.80" height="1.40" rx="0" fill="#2c2d30" opacity="0.85"/><rect x="188.60" y="782.00" width="3.80" height="1.40" rx="0" fill="#2c2d30" opacity="0.85"/><rect x="194.30" y="766.00" width="7.30" height="5.00" rx="0" fill="url(#steelH)" /><rect x="194.30" y="784.00" width="7.30" height="5.40" rx="0" fill="url(#steelH)" /><ellipse cx="197.80" cy="777.5" rx="7.8" ry="7.8" fill="#3b3c3f"/><ellipse cx="197.30" cy="777.5" rx="7.2" ry="7.6" fill="url(#ball)"/><rect x="188.00" y="763.00" width="19.00" height="3.20" rx="1.0" fill="url(#steelH)" /><rect x="188.00" y="765.50" width="19.00" height="0.80" rx="0" fill="#4a4b4f" opacity="0.55"/><rect x="188.00" y="789.00" width="19.00" height="2.80" rx="1.0" fill="url(#steelH)" /><rect x="188.00" y="789.00" width="19.00" height="0.70" rx="0" fill="#4a4b4f" opacity="0.45"/><rect x="198.40" y="789.60" width="0.70" height="2.00" rx="0" fill="#3a3b3e" opacity="0.7"/><rect x="200.60" y="789.60" width="0.60" height="2.00" rx="0" fill="#3a3b3e" opacity="0.7"/><rect x="191.40" y="731.00" width="11.40" height="28.00" rx="0" fill="url(#steelD)" /><rect x="191.70" y="758.60" width="11.80" height="4.70" rx="0" fill="url(#steelD)" /><rect x="191.70" y="758.60" width="5.90" height="4.70" rx="0" fill="#55575a" opacity="0.55"/><rect x="191.70" y="758.60" width="11.80" height="0.80" rx="0" fill="#55575b" opacity="0.7"/><rect x="190.10" y="722.40" width="15.40" height="9.00" rx="0.6" fill="#1d1e21" /><rect x="193.20" y="726.50" width="9.00" height="1.10" rx="0" fill="#3a3c40" /><rect x="189.70" y="692.40" width="15.80" height="7.60" rx="0" fill="#25272b" /><rect x="191.20" y="694.60" width="12.80" height="3.00" rx="0" fill="#4a4d52" /><rect x="181.20" y="679.60" width="10.20" height="8.30" rx="1.8" fill="#1f2023" /><rect x="190.40" y="678.90" width="14.40" height="13.90" rx="0.8" fill="#3b3e43" /><rect x="194.30" y="682.20" width="5.90" height="5.30" rx="0.5" fill="#2a2c30" /><rect x="196.40" y="684.00" width="1.80" height="1.80" rx="0" fill="#16171a" /><rect x="186.20" y="699.60" width="22.80" height="23.20" rx="1.2" fill="#17181b" /><rect x="187.60" y="701.00" width="20.00" height="20.40" rx="0.8" fill="#1b3890" /><rect x="191.60" y="702.00" width="12.60" height="3.20" rx="0.4" fill="#f1f2f4" /><circle cx="193.5" cy="703.6" r="1.0" fill="#d8232a"/><rect x="195.60" y="703.00" width="7.20" height="1.20" rx="0" fill="#3a4a7a" /><rect x="189.20" y="707.40" width="16.60" height="7.80" rx="0.3" fill="#dc4650" /><rect x="190.20" y="708.60" width="2.00" height="5.40" rx="0" fill="#a61e2a" opacity="0.65"/><rect x="193.30" y="708.60" width="2.00" height="5.40" rx="0" fill="#a61e2a" opacity="0.65"/><rect x="196.40" y="708.60" width="2.00" height="5.40" rx="0" fill="#a61e2a" opacity="0.65"/><rect x="199.50" y="708.60" width="2.00" height="5.40" rx="0" fill="#a61e2a" opacity="0.65"/><rect x="202.60" y="708.60" width="2.00" height="5.40" rx="0" fill="#a61e2a" opacity="0.65"/><circle cx="194.2" cy="718.4" r="2.3" fill="#eef1f8"/><circle cx="200.6" cy="718.4" r="2.3" fill="#eef1f8"/><circle cx="194.2" cy="718.4" r="0.9" fill="#2f57b8"/><circle cx="200.6" cy="718.4" r="0.9" fill="#2f57b8"/><circle cx="187.29999999999998" cy="700.8" r="0.7" fill="#c9cbce"/><circle cx="207.89999999999998" cy="700.8" r="0.7" fill="#c9cbce"/><circle cx="187.29999999999998" cy="721.6" r="0.7" fill="#c9cbce"/><circle cx="207.89999999999998" cy="721.6" r="0.7" fill="#c9cbce"/></g>
<g><path d="M341.60 765.4 Q343.90 765.0 343.80 768.4 L344.00 772 Q345.30 777.8 344.00 783.6 L343.80 788 Q343.70 791 341.90 790.6 Q340.60 778 341.60 765.4 Z" fill="#2f8be6"/><path d="M341.60 766 Q340.90 778 341.90 790.4" fill="none" stroke="#6db4f2" stroke-width="0.6"/><path d="M346.30 775.4 L350.10 773.2 L357.70 773.2 L361.50 776.2 L361.50 779.2 L357.70 782.4 L350.10 782.4 L346.30 780.2 Z" fill="#f3f3f4" stroke="#8e9094" stroke-width="0.9" stroke-linejoin="round"/><rect x="349.50" y="774.20" width="0.80" height="7.20" rx="0" fill="#9a9c9f" /><rect x="345.30" y="777.10" width="17.00" height="1.30" rx="0" fill="#4a4b4e" /><rect x="354.10" y="776.20" width="3.20" height="3.10" rx="0.6" fill="#3a3b3e" /><rect x="351.30" y="776.80" width="2.20" height="2.00" rx="0" fill="#77797c" /><rect x="361.50" y="768.60" width="2.80" height="18.30" rx="0.7" fill="url(#steelV)" /><rect x="364.80" y="769.40" width="2.50" height="16.70" rx="0.7" fill="url(#steelV)" /><rect x="361.50" y="768.60" width="2.80" height="18.30" rx="0.7" fill="none" stroke="#55575b" stroke-width="0.35"/><rect x="362.90" y="768.50" width="4.20" height="2.20" rx="0.6" fill="#1f2023" /><rect x="362.90" y="785.00" width="4.20" height="1.90" rx="0.6" fill="#1f2023" /><rect x="363.70" y="776.00" width="4.40" height="3.60" rx="0" fill="#151517" /><rect x="367.70" y="772.20" width="6.20" height="10.60" rx="0" fill="url(#steelV)" /><rect x="367.90" y="771.60" width="3.80" height="1.40" rx="0" fill="#2c2d30" opacity="0.85"/><rect x="367.90" y="782.00" width="3.80" height="1.40" rx="0" fill="#2c2d30" opacity="0.85"/><rect x="373.60" y="766.00" width="7.30" height="5.00" rx="0" fill="url(#steelH)" /><rect x="373.60" y="784.00" width="7.30" height="5.40" rx="0" fill="url(#steelH)" /><ellipse cx="377.10" cy="777.5" rx="7.8" ry="7.8" fill="#3b3c3f"/><ellipse cx="376.60" cy="777.5" rx="7.2" ry="7.6" fill="url(#ball)"/><rect x="367.30" y="763.00" width="19.00" height="3.20" rx="1.0" fill="url(#steelH)" /><rect x="367.30" y="765.50" width="19.00" height="0.80" rx="0" fill="#4a4b4f" opacity="0.55"/><rect x="367.30" y="789.00" width="19.00" height="2.80" rx="1.0" fill="url(#steelH)" /><rect x="367.30" y="789.00" width="19.00" height="0.70" rx="0" fill="#4a4b4f" opacity="0.45"/><rect x="377.70" y="789.60" width="0.70" height="2.00" rx="0" fill="#3a3b3e" opacity="0.7"/><rect x="379.90" y="789.60" width="0.60" height="2.00" rx="0" fill="#3a3b3e" opacity="0.7"/><rect x="370.80" y="731.00" width="11.40" height="28.00" rx="0" fill="url(#steelD)" /><rect x="371.10" y="758.60" width="11.80" height="4.70" rx="0" fill="url(#steelD)" /><rect x="371.10" y="758.60" width="5.90" height="4.70" rx="0" fill="#55575a" opacity="0.55"/><rect x="371.10" y="758.60" width="11.80" height="0.80" rx="0" fill="#55575b" opacity="0.7"/><rect x="369.50" y="722.40" width="15.40" height="9.00" rx="0.6" fill="#1d1e21" /><rect x="372.60" y="726.50" width="9.00" height="1.10" rx="0" fill="#3a3c40" /><rect x="369.10" y="692.40" width="15.80" height="7.60" rx="0" fill="#25272b" /><rect x="370.60" y="694.60" width="12.80" height="3.00" rx="0" fill="#4a4d52" /><rect x="360.60" y="679.60" width="10.20" height="8.30" rx="1.8" fill="#1f2023" /><rect x="369.80" y="678.90" width="14.40" height="13.90" rx="0.8" fill="#3b3e43" /><rect x="373.70" y="682.20" width="5.90" height="5.30" rx="0.5" fill="#2a2c30" /><rect x="375.80" y="684.00" width="1.80" height="1.80" rx="0" fill="#16171a" /><rect x="365.60" y="699.60" width="22.80" height="23.20" rx="1.2" fill="#17181b" /><rect x="367.00" y="701.00" width="20.00" height="20.40" rx="0.8" fill="#1b3890" /><rect x="371.00" y="702.00" width="12.60" height="3.20" rx="0.4" fill="#f1f2f4" /><circle cx="372.90000000000003" cy="703.6" r="1.0" fill="#d8232a"/><rect x="375.00" y="703.00" width="7.20" height="1.20" rx="0" fill="#3a4a7a" /><rect x="368.60" y="707.40" width="16.60" height="7.80" rx="0.3" fill="#dc4650" /><rect x="369.60" y="708.60" width="2.00" height="5.40" rx="0" fill="#a61e2a" opacity="0.65"/><rect x="372.70" y="708.60" width="2.00" height="5.40" rx="0" fill="#a61e2a" opacity="0.65"/><rect x="375.80" y="708.60" width="2.00" height="5.40" rx="0" fill="#a61e2a" opacity="0.65"/><rect x="378.90" y="708.60" width="2.00" height="5.40" rx="0" fill="#a61e2a" opacity="0.65"/><rect x="382.00" y="708.60" width="2.00" height="5.40" rx="0" fill="#a61e2a" opacity="0.65"/><circle cx="373.6" cy="718.4" r="2.3" fill="#eef1f8"/><circle cx="380.0" cy="718.4" r="2.3" fill="#eef1f8"/><circle cx="373.6" cy="718.4" r="0.9" fill="#2f57b8"/><circle cx="380.0" cy="718.4" r="0.9" fill="#2f57b8"/><circle cx="366.70000000000005" cy="700.8" r="0.7" fill="#c9cbce"/><circle cx="387.3" cy="700.8" r="0.7" fill="#c9cbce"/><circle cx="366.70000000000005" cy="721.6" r="0.7" fill="#c9cbce"/><circle cx="387.3" cy="721.6" r="0.7" fill="#c9cbce"/></g>
<g><path d="M513.70 765.4 Q516.00 765.0 515.90 768.4 L516.10 772 Q517.40 777.8 516.10 783.6 L515.90 788 Q515.80 791 514.00 790.6 Q512.70 778 513.70 765.4 Z" fill="#2f8be6"/><path d="M513.70 766 Q513.00 778 514.00 790.4" fill="none" stroke="#6db4f2" stroke-width="0.6"/><path d="M518.40 775.4 L522.20 773.2 L529.80 773.2 L533.60 776.2 L533.60 779.2 L529.80 782.4 L522.20 782.4 L518.40 780.2 Z" fill="#f3f3f4" stroke="#8e9094" stroke-width="0.9" stroke-linejoin="round"/><rect x="521.60" y="774.20" width="0.80" height="7.20" rx="0" fill="#9a9c9f" /><rect x="517.40" y="777.10" width="17.00" height="1.30" rx="0" fill="#4a4b4e" /><rect x="526.20" y="776.20" width="3.20" height="3.10" rx="0.6" fill="#3a3b3e" /><rect x="523.40" y="776.80" width="2.20" height="2.00" rx="0" fill="#77797c" /><rect x="533.60" y="768.60" width="2.80" height="18.30" rx="0.7" fill="url(#steelV)" /><rect x="536.90" y="769.40" width="2.50" height="16.70" rx="0.7" fill="url(#steelV)" /><rect x="533.60" y="768.60" width="2.80" height="18.30" rx="0.7" fill="none" stroke="#55575b" stroke-width="0.35"/><rect x="535.00" y="768.50" width="4.20" height="2.20" rx="0.6" fill="#1f2023" /><rect x="535.00" y="785.00" width="4.20" height="1.90" rx="0.6" fill="#1f2023" /><rect x="535.80" y="776.00" width="4.40" height="3.60" rx="0" fill="#151517" /><rect x="539.80" y="772.20" width="6.20" height="10.60" rx="0" fill="url(#steelV)" /><rect x="540.00" y="771.60" width="3.80" height="1.40" rx="0" fill="#2c2d30" opacity="0.85"/><rect x="540.00" y="782.00" width="3.80" height="1.40" rx="0" fill="#2c2d30" opacity="0.85"/><rect x="545.70" y="766.00" width="7.30" height="5.00" rx="0" fill="url(#steelH)" /><rect x="545.70" y="784.00" width="7.30" height="5.40" rx="0" fill="url(#steelH)" /><ellipse cx="549.20" cy="777.5" rx="7.8" ry="7.8" fill="#3b3c3f"/><ellipse cx="548.70" cy="777.5" rx="7.2" ry="7.6" fill="url(#ball)"/><rect x="539.40" y="763.00" width="19.00" height="3.20" rx="1.0" fill="url(#steelH)" /><rect x="539.40" y="765.50" width="19.00" height="0.80" rx="0" fill="#4a4b4f" opacity="0.55"/><rect x="539.40" y="789.00" width="19.00" height="2.80" rx="1.0" fill="url(#steelH)" /><rect x="539.40" y="789.00" width="19.00" height="0.70" rx="0" fill="#4a4b4f" opacity="0.45"/><rect x="549.80" y="789.60" width="0.70" height="2.00" rx="0" fill="#3a3b3e" opacity="0.7"/><rect x="552.00" y="789.60" width="0.60" height="2.00" rx="0" fill="#3a3b3e" opacity="0.7"/><rect x="540.80" y="754.60" width="18.10" height="8.80" rx="0.6" fill="url(#steelH)" /><rect x="540.80" y="758.40" width="18.10" height="0.80" rx="0" fill="#55575b" opacity="0.6"/><rect x="533.20" y="739.00" width="33.00" height="16.00" rx="2.2" fill="#2f8fe4" /><rect x="533.20" y="739.00" width="8.80" height="16.00" rx="2.2" fill="#1f73cc" opacity="0.55"/><rect x="546.80" y="741.00" width="6.40" height="13.60" rx="1.2" fill="#58b0f0" opacity="0.8"/><circle cx="538.4" cy="748.4" r="1.7" fill="#123f7a"/><circle cx="561.4" cy="748.4" r="1.7" fill="#123f7a"/><circle cx="550" cy="751.6" r="0.9" fill="#123f7a"/><circle cx="550.6" cy="745" r="1.1" fill="#eaf6ff" opacity="0.9"/><path d="M531.4 722 L568 722 L566.4 740.4 L533 740.4 Z" fill="#1f73cc"/><rect x="538.00" y="732.00" width="22.00" height="7.00" rx="0" fill="#2f8fe4" opacity="0.8"/><circle cx="563.4" cy="731.6" r="1.6" fill="#123f7a"/><circle cx="535.8" cy="737" r="0.8" fill="#eaf6ff"/><rect x="520.40" y="683.00" width="6.60" height="19.40" rx="2.2" fill="#f1f2f3" /><rect x="520.40" y="683.00" width="2.00" height="19.40" rx="1" fill="#d5d7d9" /><rect x="588.00" y="691.80" width="10.20" height="3.00" rx="0.6" fill="#1c1c1e" /><path d="M573.6 684.6 L582 684.6 Q586 685.4 589.2 690.6 L589.2 695.6 Q586 700.2 582 700.8 L573.6 700.8 Z" fill="#eeeff0"/><rect x="577.60" y="684.60" width="1.40" height="16.20" rx="0" fill="#cfd1d3" /><path d="M528.6 679.4 L570.6 679.4 Q574.6 679.8 574.6 684 L574.6 712 L525.8 712 L525.8 684 Q525.8 679.8 528.6 679.4 Z" fill="#2f8fe4"/><rect x="529.00" y="679.40" width="41.40" height="3.60" rx="1.5" fill="#58b0f0" opacity="0.6"/><circle cx="550" cy="707.2" r="25" fill="url(#ring)"/><circle cx="550" cy="707.2" r="25" fill="none" stroke="#aeb0b3" stroke-width="0.5"/><circle cx="550" cy="707.2" r="17.2" fill="#a9adb0"/><circle cx="550" cy="707.2" r="16.4" fill="#c4c8ca"/><circle cx="550" cy="707.2" r="21" fill="none" stroke="#9a9da0" stroke-width="1.6" stroke-dasharray="1.1 1.5" opacity="0.55"/><rect x="537.60" y="698.60" width="24.80" height="18.00" rx="1" fill="#c9cfc4" /><rect x="538.40" y="700.40" width="23.20" height="1.20" rx="0" fill="#6d7fae" opacity="0.8"/><rect x="537.80" y="715.40" width="24.40" height="1.40" rx="0" fill="#d05060" /><rect x="537.80" y="716.80" width="24.40" height="1.60" rx="0" fill="#5a6fb0" /><path d="M540.4 704.2 Q550 700.4 560 704.2" fill="none" stroke="#55605a" stroke-width="0.5"/><text x="540.7" y="712.6" font-family="'Liberation Sans',sans-serif" font-size="6.8" fill="#4a534e">70000</text><rect x="544.00" y="719.60" width="12.00" height="1.60" rx="0" fill="#7f8fb8" opacity="0.7"/></g>
<g><path d="M682.70 765.4 Q685.00 765.0 684.90 768.4 L685.10 772 Q686.40 777.8 685.10 783.6 L684.90 788 Q684.80 791 683.00 790.6 Q681.70 778 682.70 765.4 Z" fill="#2f8be6"/><path d="M682.70 766 Q682.00 778 683.00 790.4" fill="none" stroke="#6db4f2" stroke-width="0.6"/><path d="M687.40 775.4 L691.20 773.2 L698.80 773.2 L702.60 776.2 L702.60 779.2 L698.80 782.4 L691.20 782.4 L687.40 780.2 Z" fill="#f3f3f4" stroke="#8e9094" stroke-width="0.9" stroke-linejoin="round"/><rect x="690.60" y="774.20" width="0.80" height="7.20" rx="0" fill="#9a9c9f" /><rect x="686.40" y="777.10" width="17.00" height="1.30" rx="0" fill="#4a4b4e" /><rect x="695.20" y="776.20" width="3.20" height="3.10" rx="0.6" fill="#3a3b3e" /><rect x="692.40" y="776.80" width="2.20" height="2.00" rx="0" fill="#77797c" /><rect x="702.60" y="768.60" width="2.80" height="18.30" rx="0.7" fill="url(#steelV)" /><rect x="705.90" y="769.40" width="2.50" height="16.70" rx="0.7" fill="url(#steelV)" /><rect x="702.60" y="768.60" width="2.80" height="18.30" rx="0.7" fill="none" stroke="#55575b" stroke-width="0.35"/><rect x="704.00" y="768.50" width="4.20" height="2.20" rx="0.6" fill="#1f2023" /><rect x="704.00" y="785.00" width="4.20" height="1.90" rx="0.6" fill="#1f2023" /><rect x="704.80" y="776.00" width="4.40" height="3.60" rx="0" fill="#151517" /><rect x="708.80" y="772.20" width="6.20" height="10.60" rx="0" fill="url(#steelV)" /><rect x="709.00" y="771.60" width="3.80" height="1.40" rx="0" fill="#2c2d30" opacity="0.85"/><rect x="709.00" y="782.00" width="3.80" height="1.40" rx="0" fill="#2c2d30" opacity="0.85"/><rect x="714.70" y="766.00" width="7.30" height="5.00" rx="0" fill="url(#steelH)" /><rect x="714.70" y="784.00" width="7.30" height="5.40" rx="0" fill="url(#steelH)" /><ellipse cx="718.20" cy="777.5" rx="7.8" ry="7.8" fill="#3b3c3f"/><ellipse cx="717.70" cy="777.5" rx="7.2" ry="7.6" fill="url(#ball)"/><rect x="708.40" y="763.00" width="19.00" height="3.20" rx="1.0" fill="url(#steelH)" /><rect x="708.40" y="765.50" width="19.00" height="0.80" rx="0" fill="#4a4b4f" opacity="0.55"/><rect x="708.40" y="789.00" width="19.00" height="2.80" rx="1.0" fill="url(#steelH)" /><rect x="708.40" y="789.00" width="19.00" height="0.70" rx="0" fill="#4a4b4f" opacity="0.45"/><rect x="718.80" y="789.60" width="0.70" height="2.00" rx="0" fill="#3a3b3e" opacity="0.7"/><rect x="721.00" y="789.60" width="0.60" height="2.00" rx="0" fill="#3a3b3e" opacity="0.7"/><rect x="709.00" y="754.60" width="18.10" height="8.80" rx="0.6" fill="url(#steelH)" /><rect x="709.00" y="758.40" width="18.10" height="0.80" rx="0" fill="#55575b" opacity="0.6"/><rect x="701.40" y="739.00" width="33.00" height="16.00" rx="2.2" fill="#3d99d6" /><rect x="701.40" y="739.00" width="8.80" height="16.00" rx="2.2" fill="#2d80bd" opacity="0.55"/><rect x="715.00" y="741.00" width="6.40" height="13.60" rx="1.2" fill="#5cb0e2" opacity="0.8"/><circle cx="706.6" cy="748.4" r="1.7" fill="#123f7a"/><circle cx="729.6" cy="748.4" r="1.7" fill="#123f7a"/><circle cx="718.2" cy="751.6" r="0.9" fill="#123f7a"/><circle cx="718.8000000000001" cy="745" r="1.1" fill="#eaf6ff" opacity="0.9"/><path d="M699.6 722 L736.2 722 L734.6 740.4 L701.2 740.4 Z" fill="#2d80bd"/><rect x="706.20" y="732.00" width="22.00" height="7.00" rx="0" fill="#3d99d6" opacity="0.8"/><circle cx="731.6" cy="731.6" r="1.6" fill="#123f7a"/><circle cx="704.0" cy="737" r="0.8" fill="#eaf6ff"/><rect x="688.60" y="683.00" width="6.60" height="19.40" rx="2.2" fill="#f1f2f3" /><rect x="688.60" y="683.00" width="2.00" height="19.40" rx="1" fill="#d5d7d9" /><rect x="756.20" y="691.80" width="10.20" height="3.00" rx="0.6" fill="#1c1c1e" /><path d="M741.8000000000001 684.6 L750.2 684.6 Q754.2 685.4 757.4000000000001 690.6 L757.4000000000001 695.6 Q754.2 700.2 750.2 700.8 L741.8000000000001 700.8 Z" fill="#eeeff0"/><rect x="745.80" y="684.60" width="1.40" height="16.20" rx="0" fill="#cfd1d3" /><path d="M696.8000000000001 679.4 L738.8000000000001 679.4 Q742.8000000000001 679.8 742.8000000000001 684 L742.8000000000001 712 L694.0 712 L694.0 684 Q694.0 679.8 696.8000000000001 679.4 Z" fill="#3d99d6"/><rect x="697.20" y="679.40" width="41.40" height="3.60" rx="1.5" fill="#5cb0e2" opacity="0.6"/><polygon points="740.93,716.12 727.61,729.87 708.79,729.87 695.47,716.12 695.47,696.68 708.79,682.93 727.61,682.93 740.93,696.68" fill="#3d99d6"/><polygon points="739.47,718.23 729.75,728.19 725.55,720.11 731.73,713.84" fill="#2d80bd" opacity="0.75"/><polygon points="725.07,730.18 711.33,730.18 713.83,721.36 722.57,721.36" fill="#2d80bd" opacity="0.75"/><polygon points="706.65,728.19 696.93,718.23 704.67,713.84 710.85,720.11" fill="#2d80bd" opacity="0.75"/><polygon points="695.00,713.44 695.00,699.36 703.43,701.97 703.43,710.83" fill="#3d99d6" opacity="0.75"/><polygon points="696.93,694.57 706.65,684.61 710.85,692.69 704.67,698.96" fill="#5cb0e2" opacity="0.75"/><polygon points="711.33,682.62 725.07,682.62 722.57,691.44 713.83,691.44" fill="#5cb0e2" opacity="0.75"/><polygon points="729.75,684.61 739.47,694.57 731.73,698.96 725.55,692.69" fill="#5cb0e2" opacity="0.75"/><polygon points="741.40,699.36 741.40,713.44 732.97,710.83 732.97,701.97" fill="#3d99d6" opacity="0.75"/><circle cx="718.2" cy="707.4" r="14.2" fill="#4aa3dc"/><circle cx="718.2" cy="707.4" r="14.2" fill="none" stroke="#7fc0e6" stroke-width="0.5"/><circle cx="718.2" cy="707.4" r="11.6" fill="none" stroke="#8cc6ea" stroke-width="0.8" stroke-dasharray="0.9 1.3" opacity="0.7"/><rect x="709.80" y="705.40" width="16.80" height="2.00" rx="0" fill="#85bfe4" opacity="0.8"/><text x="714.6" y="715.2" font-family="'Liberation Sans',sans-serif" font-size="5.5" fill="#8ac4e8">Ex</text><circle cx="728.4000000000001" cy="723.4" r="0.8" fill="#eaf6ff"/></g>
<g><path d="M876.40 765.4 Q878.70 765.0 878.60 768.4 L878.80 772 Q880.10 777.8 878.80 783.6 L878.60 788 Q878.50 791 876.70 790.6 Q875.40 778 876.40 765.4 Z" fill="#2f8be6"/><path d="M876.40 766 Q875.70 778 876.70 790.4" fill="none" stroke="#6db4f2" stroke-width="0.6"/><path d="M881.10 775.4 L884.90 773.2 L892.50 773.2 L896.30 776.2 L896.30 779.2 L892.50 782.4 L884.90 782.4 L881.10 780.2 Z" fill="#f3f3f4" stroke="#8e9094" stroke-width="0.9" stroke-linejoin="round"/><rect x="884.30" y="774.20" width="0.80" height="7.20" rx="0" fill="#9a9c9f" /><rect x="880.10" y="777.10" width="17.00" height="1.30" rx="0" fill="#4a4b4e" /><rect x="888.90" y="776.20" width="3.20" height="3.10" rx="0.6" fill="#3a3b3e" /><rect x="886.10" y="776.80" width="2.20" height="2.00" rx="0" fill="#77797c" /><rect x="896.30" y="768.60" width="2.80" height="18.30" rx="0.7" fill="url(#steelV)" /><rect x="899.60" y="769.40" width="2.50" height="16.70" rx="0.7" fill="url(#steelV)" /><rect x="896.30" y="768.60" width="2.80" height="18.30" rx="0.7" fill="none" stroke="#55575b" stroke-width="0.35"/><rect x="897.70" y="768.50" width="4.20" height="2.20" rx="0.6" fill="#1f2023" /><rect x="897.70" y="785.00" width="4.20" height="1.90" rx="0.6" fill="#1f2023" /><rect x="898.50" y="776.00" width="4.40" height="3.60" rx="0" fill="#151517" /><rect x="902.50" y="772.20" width="6.20" height="10.60" rx="0" fill="url(#steelV)" /><rect x="902.70" y="771.60" width="3.80" height="1.40" rx="0" fill="#2c2d30" opacity="0.85"/><rect x="902.70" y="782.00" width="3.80" height="1.40" rx="0" fill="#2c2d30" opacity="0.85"/><rect x="908.40" y="766.00" width="7.30" height="5.00" rx="0" fill="url(#steelH)" /><rect x="908.40" y="784.00" width="7.30" height="5.40" rx="0" fill="url(#steelH)" /><ellipse cx="911.90" cy="777.5" rx="7.8" ry="7.8" fill="#3b3c3f"/><ellipse cx="911.40" cy="777.5" rx="7.2" ry="7.6" fill="url(#ball)"/><rect x="902.10" y="763.00" width="19.00" height="3.20" rx="1.0" fill="url(#steelH)" /><rect x="902.10" y="765.50" width="19.00" height="0.80" rx="0" fill="#4a4b4f" opacity="0.55"/><rect x="902.10" y="789.00" width="19.00" height="2.80" rx="1.0" fill="url(#steelH)" /><rect x="902.10" y="789.00" width="19.00" height="0.70" rx="0" fill="#4a4b4f" opacity="0.45"/><rect x="912.50" y="789.60" width="0.70" height="2.00" rx="0" fill="#3a3b3e" opacity="0.7"/><rect x="914.70" y="789.60" width="0.60" height="2.00" rx="0" fill="#3a3b3e" opacity="0.7"/><rect x="902.30" y="755.60" width="19.80" height="7.80" rx="0.6" fill="url(#steelH)" /><rect x="902.30" y="755.60" width="19.80" height="0.80" rx="0" fill="#55575b" opacity="0.6"/><rect x="908.30" y="755.60" width="0.60" height="7.80" rx="0" fill="#6a6c70" opacity="0.6"/><rect x="915.70" y="755.60" width="0.60" height="7.80" rx="0" fill="#6a6c70" opacity="0.6"/><rect x="902.70" y="717.00" width="18.80" height="39.00" rx="0" fill="url(#steelD)" /><rect x="900.90" y="709.20" width="22.20" height="8.40" rx="0.8" fill="#1a1b1e" /><rect x="902.30" y="689.80" width="19.60" height="20.20" rx="1" fill="#34363b" /><rect x="910.10" y="694.60" width="4.80" height="5.60" rx="0.5" fill="#24262a" /><rect x="911.90" y="696.40" width="1.40" height="2.20" rx="0" fill="#0e0f11" /><rect x="889.50" y="691.80" width="13.20" height="12.80" rx="3" fill="#202124" /><rect x="894.70" y="694.60" width="6.00" height="2.60" rx="0.8" fill="#5a5c61" opacity="0.8"/><rect x="865.90" y="697.10" width="24.40" height="2.50" rx="1.1" fill="#151517" /></g>
</svg>
</body></html>
